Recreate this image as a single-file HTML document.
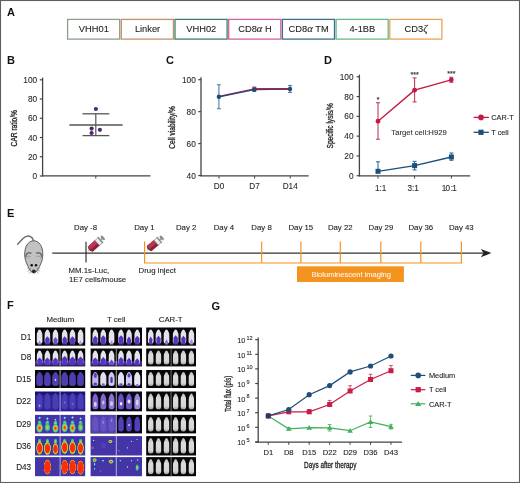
<!DOCTYPE html>
<html><head><meta charset="utf-8"><style>
html,body{margin:0;padding:0;background:#fff;}
svg{display:block;font-family:"Liberation Sans", sans-serif;will-change:transform;}
</style></head><body>
<svg width="520" height="483" viewBox="0 0 520 483">
<rect x="0" y="0" width="520" height="483" fill="#fff"/>
<text x="7" y="16" font-size="11" text-anchor="start" fill="#111" font-weight="bold" >A</text>
<text x="7" y="64" font-size="11" text-anchor="start" fill="#111" font-weight="bold" >B</text>
<text x="166" y="64" font-size="11" text-anchor="start" fill="#111" font-weight="bold" >C</text>
<text x="324" y="64" font-size="11" text-anchor="start" fill="#111" font-weight="bold" >D</text>
<text x="7" y="217" font-size="11" text-anchor="start" fill="#111" font-weight="bold" >E</text>
<text x="7" y="308.5" font-size="11" text-anchor="start" fill="#111" font-weight="bold" >F</text>
<text x="211.5" y="309.5" font-size="11" text-anchor="start" fill="#111" font-weight="bold" >G</text>
<rect x="67.60" y="19.4" width="52.10" height="19.7" fill="#fff" stroke="#8f9e8c" stroke-width="1.3"/>
<text x="93.85" y="32.4" font-size="9.3" text-anchor="middle" fill="#1e1e1e" font-weight="normal"  stroke="#1e1e1e" stroke-width="0.1">VHH01</text>
<rect x="121.30" y="19.4" width="52.10" height="19.7" fill="#fff" stroke="#c4906c" stroke-width="1.3"/>
<text x="147.55" y="32.4" font-size="9.3" text-anchor="middle" fill="#1e1e1e" font-weight="normal"  stroke="#1e1e1e" stroke-width="0.1">Linker</text>
<rect x="175.00" y="19.4" width="52.10" height="19.7" fill="#fff" stroke="#3f8068" stroke-width="1.3"/>
<text x="201.25" y="32.4" font-size="9.3" text-anchor="middle" fill="#1e1e1e" font-weight="normal"  stroke="#1e1e1e" stroke-width="0.1">VHH02</text>
<rect x="228.70" y="19.4" width="52.10" height="19.7" fill="#fff" stroke="#d9609c" stroke-width="1.3"/>
<text x="254.95" y="32.4" font-size="9.3" text-anchor="middle" fill="#1e1e1e" font-weight="normal"  stroke="#1e1e1e" stroke-width="0.1">CD8<tspan font-family="Liberation Serif" font-style="italic" font-size="10.5">&#945;</tspan> H</text>
<rect x="282.40" y="19.4" width="52.10" height="19.7" fill="#fff" stroke="#3f6e8f" stroke-width="1.3"/>
<text x="308.65" y="32.4" font-size="9.3" text-anchor="middle" fill="#1e1e1e" font-weight="normal"  stroke="#1e1e1e" stroke-width="0.1">CD8<tspan font-family="Liberation Serif" font-style="italic" font-size="10.5">&#945;</tspan> TM</text>
<rect x="336.10" y="19.4" width="52.10" height="19.7" fill="#fff" stroke="#66b98a" stroke-width="1.3"/>
<text x="362.35" y="32.4" font-size="9.3" text-anchor="middle" fill="#1e1e1e" font-weight="normal"  stroke="#1e1e1e" stroke-width="0.1">4-1BB</text>
<rect x="389.80" y="19.4" width="52.10" height="19.7" fill="#fff" stroke="#eba55a" stroke-width="1.3"/>
<text x="416.05" y="32.4" font-size="9.3" text-anchor="middle" fill="#1e1e1e" font-weight="normal"  stroke="#1e1e1e" stroke-width="0.1">CD3<tspan font-family="Liberation Serif" font-style="italic" font-size="10.5">&#950;</tspan></text>
<line x1="42.6" y1="77.6" x2="42.6" y2="176.3" stroke="#444" stroke-width="1.3" />
<line x1="39.800000000000004" y1="79.8" x2="42.6" y2="79.8" stroke="#444" stroke-width="1.2" />
<text x="37.2" y="82.80" font-size="8.3" text-anchor="end" fill="#2a2a2a" stroke="#2a2a2a" stroke-width="0.1">100</text>
<line x1="39.800000000000004" y1="99.03999999999999" x2="42.6" y2="99.03999999999999" stroke="#444" stroke-width="1.2" />
<text x="37.2" y="102.04" font-size="8.3" text-anchor="end" fill="#2a2a2a" stroke="#2a2a2a" stroke-width="0.1">80</text>
<line x1="39.800000000000004" y1="118.28" x2="42.6" y2="118.28" stroke="#444" stroke-width="1.2" />
<text x="37.2" y="121.28" font-size="8.3" text-anchor="end" fill="#2a2a2a" stroke="#2a2a2a" stroke-width="0.1">60</text>
<line x1="39.800000000000004" y1="137.51999999999998" x2="42.6" y2="137.51999999999998" stroke="#444" stroke-width="1.2" />
<text x="37.2" y="140.52" font-size="8.3" text-anchor="end" fill="#2a2a2a" stroke="#2a2a2a" stroke-width="0.1">40</text>
<line x1="39.800000000000004" y1="156.76" x2="42.6" y2="156.76" stroke="#444" stroke-width="1.2" />
<text x="37.2" y="159.76" font-size="8.3" text-anchor="end" fill="#2a2a2a" stroke="#2a2a2a" stroke-width="0.1">20</text>
<line x1="39.800000000000004" y1="176.0" x2="42.6" y2="176.0" stroke="#444" stroke-width="1.2" />
<text x="37.2" y="179.00" font-size="8.3" text-anchor="end" fill="#2a2a2a" stroke="#2a2a2a" stroke-width="0.1">0</text>
<line x1="42.0" y1="175.8" x2="150.5" y2="175.8" stroke="#444" stroke-width="1.3" />
<line x1="95.8" y1="175.8" x2="95.8" y2="178.6" stroke="#444" stroke-width="1.0" />
<text x="0" y="0" font-size="8.8" text-anchor="middle" fill="#222" stroke="#222" stroke-width="0.3" textLength="36.4" lengthAdjust="spacingAndGlyphs" transform="translate(16.9,128.2) rotate(-90)">CAR ratio/%</text>
<line x1="69.4" y1="125" x2="122.6" y2="125" stroke="#555" stroke-width="1.3" />
<line x1="82.5" y1="113.8" x2="109.3" y2="113.8" stroke="#555" stroke-width="1.3" />
<line x1="82.5" y1="135.6" x2="109.3" y2="135.6" stroke="#555" stroke-width="1.3" />
<line x1="95.8" y1="113.8" x2="95.8" y2="135.6" stroke="#555" stroke-width="1.2" />
<circle cx="95.9" cy="109" r="2.1" fill="#4b2a6e"/>
<circle cx="91.6" cy="128.6" r="2.1" fill="#4b2a6e"/>
<circle cx="91.6" cy="133" r="2.1" fill="#4b2a6e"/>
<circle cx="99.9" cy="129.8" r="2.1" fill="#4b2a6e"/>
<line x1="201.0" y1="77.2" x2="201.0" y2="176.3" stroke="#444" stroke-width="1.3" />
<line x1="198.2" y1="79.7" x2="201.0" y2="79.7" stroke="#444" stroke-width="1.2" />
<text x="195.8" y="82.70" font-size="8.3" text-anchor="end" fill="#2a2a2a" stroke="#2a2a2a" stroke-width="0.1">100</text>
<line x1="198.2" y1="111.65" x2="201.0" y2="111.65" stroke="#444" stroke-width="1.2" />
<text x="195.8" y="114.65" font-size="8.3" text-anchor="end" fill="#2a2a2a" stroke="#2a2a2a" stroke-width="0.1">80</text>
<line x1="198.2" y1="143.6" x2="201.0" y2="143.6" stroke="#444" stroke-width="1.2" />
<text x="195.8" y="146.60" font-size="8.3" text-anchor="end" fill="#2a2a2a" stroke="#2a2a2a" stroke-width="0.1">60</text>
<line x1="198.2" y1="175.55" x2="201.0" y2="175.55" stroke="#444" stroke-width="1.2" />
<text x="195.8" y="178.55" font-size="8.3" text-anchor="end" fill="#2a2a2a" stroke="#2a2a2a" stroke-width="0.1">40</text>
<line x1="200.4" y1="175.8" x2="308.7" y2="175.8" stroke="#444" stroke-width="1.3" />
<line x1="219" y1="175.8" x2="219" y2="178.6" stroke="#444" stroke-width="1.0" />
<text x="219" y="188.7" font-size="8.2" text-anchor="middle" fill="#2a2a2a" font-weight="normal"  stroke="#2a2a2a" stroke-width="0.1">D0</text>
<line x1="254.6" y1="175.8" x2="254.6" y2="178.6" stroke="#444" stroke-width="1.0" />
<text x="254.6" y="188.7" font-size="8.2" text-anchor="middle" fill="#2a2a2a" font-weight="normal"  stroke="#2a2a2a" stroke-width="0.1">D7</text>
<line x1="290.2" y1="175.8" x2="290.2" y2="178.6" stroke="#444" stroke-width="1.0" />
<text x="290.2" y="188.7" font-size="8.2" text-anchor="middle" fill="#2a2a2a" font-weight="normal"  stroke="#2a2a2a" stroke-width="0.1">D14</text>
<text x="0" y="0" font-size="8.8" text-anchor="middle" fill="#222" stroke="#222" stroke-width="0.3" textLength="42.6" lengthAdjust="spacingAndGlyphs" transform="translate(175.2,127.4) rotate(-90)">Cell viability/%</text>
<polyline points="218.9,96.5 254.3,88.9 290,88.7" fill="none" stroke="#c8254f" stroke-width="1.4"/>
<rect x="252.3" y="86.6" width="4" height="4" fill="#c8254f"/>
<line x1="218.9" y1="84.8" x2="218.9" y2="108.7" stroke="#4d7ea6" stroke-width="1.1" />
<line x1="216.9" y1="84.8" x2="220.9" y2="84.8" stroke="#4d7ea6" stroke-width="1.1" />
<line x1="216.9" y1="108.7" x2="220.9" y2="108.7" stroke="#4d7ea6" stroke-width="1.1" />
<line x1="254.3" y1="88.2" x2="254.3" y2="91.3" stroke="#4d7ea6" stroke-width="1.1" />
<line x1="252.3" y1="88.2" x2="256.3" y2="88.2" stroke="#4d7ea6" stroke-width="1.1" />
<line x1="252.3" y1="91.3" x2="256.3" y2="91.3" stroke="#4d7ea6" stroke-width="1.1" />
<line x1="290" y1="85.5" x2="290" y2="92.4" stroke="#4d7ea6" stroke-width="1.1" />
<line x1="288" y1="85.5" x2="292" y2="85.5" stroke="#4d7ea6" stroke-width="1.1" />
<line x1="288" y1="92.4" x2="292" y2="92.4" stroke="#4d7ea6" stroke-width="1.1" />
<polyline points="218.9,96.8 254.3,89.7 290,89" fill="none" stroke="#1e4a73" stroke-width="1.3"/>
<line x1="255" y1="88.9" x2="288" y2="88.7" stroke="#a8204a" stroke-width="1.3"/>
<circle cx="218.9" cy="96.8" r="2.2" fill="#1e4a73"/>
<circle cx="254.3" cy="89.7" r="2.2" fill="#1e4a73"/>
<circle cx="290" cy="89" r="2.2" fill="#1e4a73"/>
<line x1="359.4" y1="74.6" x2="359.4" y2="176.3" stroke="#444" stroke-width="1.3" />
<line x1="356.59999999999997" y1="76.8" x2="359.4" y2="76.8" stroke="#444" stroke-width="1.2" />
<text x="353.6" y="79.80" font-size="8.3" text-anchor="end" fill="#2a2a2a" stroke="#2a2a2a" stroke-width="0.1">100</text>
<line x1="356.59999999999997" y1="96.58" x2="359.4" y2="96.58" stroke="#444" stroke-width="1.2" />
<text x="353.6" y="99.58" font-size="8.3" text-anchor="end" fill="#2a2a2a" stroke="#2a2a2a" stroke-width="0.1">80</text>
<line x1="356.59999999999997" y1="116.36" x2="359.4" y2="116.36" stroke="#444" stroke-width="1.2" />
<text x="353.6" y="119.36" font-size="8.3" text-anchor="end" fill="#2a2a2a" stroke="#2a2a2a" stroke-width="0.1">60</text>
<line x1="356.59999999999997" y1="136.14" x2="359.4" y2="136.14" stroke="#444" stroke-width="1.2" />
<text x="353.6" y="139.14" font-size="8.3" text-anchor="end" fill="#2a2a2a" stroke="#2a2a2a" stroke-width="0.1">40</text>
<line x1="356.59999999999997" y1="155.92000000000002" x2="359.4" y2="155.92000000000002" stroke="#444" stroke-width="1.2" />
<text x="353.6" y="158.92" font-size="8.3" text-anchor="end" fill="#2a2a2a" stroke="#2a2a2a" stroke-width="0.1">20</text>
<line x1="356.59999999999997" y1="175.7" x2="359.4" y2="175.7" stroke="#444" stroke-width="1.2" />
<text x="353.6" y="178.70" font-size="8.3" text-anchor="end" fill="#2a2a2a" stroke="#2a2a2a" stroke-width="0.1">0</text>
<line x1="358.8" y1="175.8" x2="470.2" y2="175.8" stroke="#444" stroke-width="1.3" />
<line x1="378" y1="175.8" x2="378" y2="178.6" stroke="#444" stroke-width="1.0" />
<text x="380.6" y="190.5" font-size="8.2" text-anchor="middle" fill="#2a2a2a" font-weight="normal"  stroke="#2a2a2a" stroke-width="0.1">1:1</text>
<line x1="414.6" y1="175.8" x2="414.6" y2="178.6" stroke="#444" stroke-width="1.0" />
<text x="413.1" y="190.5" font-size="8.2" text-anchor="middle" fill="#2a2a2a" font-weight="normal"  stroke="#2a2a2a" stroke-width="0.1">3:1</text>
<line x1="451.4" y1="175.8" x2="451.4" y2="178.6" stroke="#444" stroke-width="1.0" />
<text x="449.3" y="190.5" font-size="8.2" text-anchor="middle" fill="#2a2a2a" font-weight="normal" textLength="15.2" lengthAdjust="spacing" stroke="#2a2a2a" stroke-width="0.1">10 :1</text>
<text x="0" y="0" font-size="8.6" text-anchor="middle" fill="#222" stroke="#222" stroke-width="0.3" textLength="45.4" lengthAdjust="spacingAndGlyphs" transform="translate(333.0,125.8) rotate(-90)">Specific lysis/%</text>
<line x1="378" y1="102.7" x2="378" y2="139.2" stroke="#c2405c" stroke-width="1.1" />
<line x1="376" y1="102.7" x2="380" y2="102.7" stroke="#c2405c" stroke-width="1.1" />
<line x1="376" y1="139.2" x2="380" y2="139.2" stroke="#c2405c" stroke-width="1.1" />
<line x1="414.6" y1="77.9" x2="414.6" y2="101.9" stroke="#c2405c" stroke-width="1.1" />
<line x1="412.6" y1="77.9" x2="416.6" y2="77.9" stroke="#c2405c" stroke-width="1.1" />
<line x1="412.6" y1="101.9" x2="416.6" y2="101.9" stroke="#c2405c" stroke-width="1.1" />
<line x1="451.3" y1="77.3" x2="451.3" y2="82.3" stroke="#c2405c" stroke-width="1.1" />
<line x1="449.3" y1="77.3" x2="453.3" y2="77.3" stroke="#c2405c" stroke-width="1.1" />
<line x1="449.3" y1="82.3" x2="453.3" y2="82.3" stroke="#c2405c" stroke-width="1.1" />
<polyline points="378,121.2 414.6,90.2 451.3,79.8" fill="none" stroke="#c41a42" stroke-width="1.4"/>
<circle cx="378" cy="121.2" r="2.4" fill="#c41a42"/>
<circle cx="414.6" cy="90.2" r="2.4" fill="#c41a42"/>
<circle cx="451.3" cy="79.8" r="2.4" fill="#c41a42"/>
<line x1="378" y1="161.8" x2="378" y2="173.5" stroke="#3a6e9a" stroke-width="1.1" />
<line x1="376" y1="161.8" x2="380" y2="161.8" stroke="#3a6e9a" stroke-width="1.1" />
<line x1="414.6" y1="161.4" x2="414.6" y2="169.9" stroke="#3a6e9a" stroke-width="1.1" />
<line x1="412.6" y1="161.4" x2="416.6" y2="161.4" stroke="#3a6e9a" stroke-width="1.1" />
<line x1="412.6" y1="169.9" x2="416.6" y2="169.9" stroke="#3a6e9a" stroke-width="1.1" />
<line x1="451.4" y1="153" x2="451.4" y2="160.3" stroke="#3a6e9a" stroke-width="1.1" />
<line x1="449.4" y1="153" x2="453.4" y2="153" stroke="#3a6e9a" stroke-width="1.1" />
<line x1="449.4" y1="160.3" x2="453.4" y2="160.3" stroke="#3a6e9a" stroke-width="1.1" />
<polyline points="378,171.3 414.6,165.6 451.4,157" fill="none" stroke="#1c4f7c" stroke-width="1.3"/>
<rect x="375.5" y="168.8" width="5" height="5" fill="#1c4f7c"/>
<rect x="412.1" y="163.1" width="5" height="5" fill="#1c4f7c"/>
<rect x="448.9" y="154.5" width="5" height="5" fill="#1c4f7c"/>
<text x="378" y="101.5" font-size="7" text-anchor="middle" fill="#222" font-weight="normal"  stroke="#222" stroke-width="0.1">*</text>
<text x="414.6" y="76.6" font-size="7" text-anchor="middle" fill="#222" font-weight="normal"  stroke="#222" stroke-width="0.1">***</text>
<text x="451.3" y="75.8" font-size="7" text-anchor="middle" fill="#222" font-weight="normal"  stroke="#222" stroke-width="0.1">***</text>
<text x="391.3" y="135" font-size="7.9" text-anchor="start" fill="#333" font-weight="normal" textLength="55.4" lengthAdjust="spacingAndGlyphs" stroke="#333" stroke-width="0.1">Target cell:H929</text>
<line x1="473.6" y1="117.4" x2="488.9" y2="117.4" stroke="#c41a42" stroke-width="1.3" />
<circle cx="481" cy="117.4" r="2.8" fill="#c41a42"/>
<text x="491.3" y="120.1" font-size="7.3" text-anchor="start" fill="#222" font-weight="normal"  stroke="#222" stroke-width="0.1">CAR-T</text>
<line x1="473.6" y1="132.3" x2="488.9" y2="132.3" stroke="#1c4f7c" stroke-width="1.3" />
<rect x="478.4" y="129.7" width="5.2" height="5.2" fill="#1c4f7c"/>
<text x="491.3" y="135.0" font-size="7.3" text-anchor="start" fill="#222" font-weight="normal"  stroke="#222" stroke-width="0.1">T cell</text>
<g>
<path d="M17.6,244.2 L23,238.6 Q26,235.6 29.5,236.2 Q32.6,236.9 33.6,241.2" fill="none" stroke="#6e6e6e" stroke-width="1.5" stroke-linecap="round"/>
<path d="M33.8,240.8 C39.5,240.8 42.8,247 42.8,254 C42.8,259.5 41.6,262 40.2,265 C38.6,268.6 36.6,273 33.8,273 C31,273 29,268.6 27.4,265 C26,262 24.7,259.5 24.7,254 C24.7,247 28,240.8 33.8,240.8 Z" fill="#c2c2c2" stroke="#5e5e5e" stroke-width="1.0"/>
<path d="M25.6,257.2 C26.0,253.4 28.8,251.6 31.4,253.4 M42.0,257.2 C41.6,253.4 38.8,251.6 36.2,253.4" fill="none" stroke="#6a6a6a" stroke-width="1.5"/>
<path d="M26.6,258.5 C27.5,256 29.5,255.5 31,257 M41,258.5 C40.1,256 38.1,255.5 36.6,257" fill="none" stroke="#8a8a8a" stroke-width="0.9"/>
<circle cx="31.7" cy="265.2" r="1.25" fill="#111"/><circle cx="36.0" cy="265.2" r="1.25" fill="#111"/>
<ellipse cx="33.8" cy="271.2" rx="1.9" ry="1.7" fill="#2a2a2a"/>
<path d="M30.8,268.8 L27.2,268 M30.8,269.6 L27.4,271.2 M31.2,270.6 L29.4,273.6 M36.8,268.8 L40.4,268 M36.8,269.6 L40.2,271.2 M36.4,270.6 L38.2,273.6" stroke="#7a7a7a" stroke-width="0.6"/>
</g>
<line x1="52.2" y1="253.1" x2="484" y2="253.1" stroke="#333" stroke-width="1.3" />
<path d="M491.4,253.1 L480.8,248.9 L483.6,253.1 L480.8,257.3 Z" fill="#222"/>
<line x1="86" y1="241.7" x2="86" y2="262.4" stroke="#222" stroke-width="1.1" />
<line x1="144.6" y1="241.6" x2="144.6" y2="263.0" stroke="#f5931f" stroke-width="1.2" />
<line x1="261.7" y1="241.6" x2="261.7" y2="263.0" stroke="#f5931f" stroke-width="1.2" />
<line x1="300.9" y1="241.6" x2="300.9" y2="263.0" stroke="#f5931f" stroke-width="1.2" />
<line x1="340.3" y1="241.6" x2="340.3" y2="263.0" stroke="#f5931f" stroke-width="1.2" />
<line x1="380.8" y1="241.6" x2="380.8" y2="263.0" stroke="#f5931f" stroke-width="1.2" />
<line x1="420.8" y1="241.6" x2="420.8" y2="263.0" stroke="#f5931f" stroke-width="1.2" />
<line x1="461.4" y1="241.6" x2="461.4" y2="263.0" stroke="#f5931f" stroke-width="1.2" />
<line x1="144" y1="263.0" x2="462" y2="263.0" stroke="#f5931f" stroke-width="1.2" />
<rect x="297" y="266.3" width="106.9" height="15.7" fill="#f5931f"/>
<text x="351.2" y="277.1" font-size="7.6" text-anchor="middle" fill="#fff4ea" font-weight="normal" textLength="79.6" lengthAdjust="spacingAndGlyphs" stroke="#fff4ea" stroke-width="0.1">Bioluminescent imaging</text>
<text x="85.55" y="229.5" font-size="7.8" text-anchor="middle" fill="#222" font-weight="normal"  stroke="#222" stroke-width="0.1">Day -8</text>
<text x="144.40" y="229.5" font-size="7.8" text-anchor="middle" fill="#222" font-weight="normal"  stroke="#222" stroke-width="0.1">Day 1</text>
<text x="186.15" y="229.5" font-size="7.8" text-anchor="middle" fill="#222" font-weight="normal"  stroke="#222" stroke-width="0.1">Day 2</text>
<text x="223.90" y="229.5" font-size="7.8" text-anchor="middle" fill="#222" font-weight="normal"  stroke="#222" stroke-width="0.1">Day 4</text>
<text x="261.55" y="229.5" font-size="7.8" text-anchor="middle" fill="#222" font-weight="normal"  stroke="#222" stroke-width="0.1">Day 8</text>
<text x="300.80" y="229.5" font-size="7.8" text-anchor="middle" fill="#222" font-weight="normal"  stroke="#222" stroke-width="0.1">Day 15</text>
<text x="340.25" y="229.5" font-size="7.8" text-anchor="middle" fill="#222" font-weight="normal"  stroke="#222" stroke-width="0.1">Day 22</text>
<text x="380.90" y="229.5" font-size="7.8" text-anchor="middle" fill="#222" font-weight="normal"  stroke="#222" stroke-width="0.1">Day 29</text>
<text x="420.80" y="229.5" font-size="7.8" text-anchor="middle" fill="#222" font-weight="normal"  stroke="#222" stroke-width="0.1">Day 36</text>
<text x="461.30" y="229.5" font-size="7.8" text-anchor="middle" fill="#222" font-weight="normal"  stroke="#222" stroke-width="0.1">Day 43</text>
<text x="68.5" y="273.0" font-size="7.8" text-anchor="start" fill="#222" font-weight="normal"  stroke="#222" stroke-width="0.1">MM.1s-Luc,</text>
<text x="69.0" y="282.3" font-size="7.8" text-anchor="start" fill="#222" font-weight="normal"  stroke="#222" stroke-width="0.1">1E7 cells/mouse</text>
<text x="138.6" y="272.9" font-size="7.8" text-anchor="start" fill="#222" font-weight="normal"  stroke="#222" stroke-width="0.1">Drug inject</text>
<g transform="translate(88.2,251.0) rotate(-42) scale(1.0)">
<line x1="0" y1="0" x2="2.0" y2="0" stroke="#888" stroke-width="0.8"/>
<path d="M1.6,-1.4 L2.8,-3.3 L2.8,3.3 L1.6,1.4 Z" fill="#6e1a2c"/>
<rect x="2.8" y="-3.3" width="9.4" height="6.6" fill="#c03452" stroke="#6e1a2c" stroke-width="0.6"/>
<rect x="2.8" y="0.7" width="9.4" height="2.6" fill="#8c1f38"/>
<rect x="12.2" y="-3.3" width="3.6" height="6.6" fill="#eeeeee" stroke="#7a9a92" stroke-width="0.7"/>
<rect x="15.8" y="-4.0" width="1.3" height="8.0" fill="#8a8a8a"/>
<rect x="17.1" y="-0.8" width="1.8" height="1.6" fill="#9a9a9a"/>
<ellipse cx="19.6" cy="0" rx="1.4" ry="2.9" fill="#8e8e8e"/>
</g>
<g transform="translate(147.0,250.3) rotate(-40) scale(0.98)">
<line x1="0" y1="0" x2="2.0" y2="0" stroke="#888" stroke-width="0.8"/>
<path d="M1.6,-1.4 L2.8,-3.3 L2.8,3.3 L1.6,1.4 Z" fill="#6e1a2c"/>
<rect x="2.8" y="-3.3" width="9.4" height="6.6" fill="#c03452" stroke="#6e1a2c" stroke-width="0.6"/>
<rect x="2.8" y="0.7" width="9.4" height="2.6" fill="#8c1f38"/>
<rect x="12.2" y="-3.3" width="3.6" height="6.6" fill="#eeeeee" stroke="#7a9a92" stroke-width="0.7"/>
<rect x="15.8" y="-4.0" width="1.3" height="8.0" fill="#8a8a8a"/>
<rect x="17.1" y="-0.8" width="1.8" height="1.6" fill="#9a9a9a"/>
<ellipse cx="19.6" cy="0" rx="1.4" ry="2.9" fill="#8e8e8e"/>
</g>
<line x1="258.2" y1="337.4" x2="258.2" y2="442.4" stroke="#444" stroke-width="1.3" />
<line x1="255.2" y1="441.9" x2="258.2" y2="441.9" stroke="#444" stroke-width="1.2" />
<text x="245.3" y="445.30" font-size="7.3" text-anchor="end" fill="#2a2a2a" stroke="#2a2a2a" stroke-width="0.1">10</text>
<text x="246.4" y="442.10" font-size="5.5" text-anchor="start" fill="#2a2a2a" stroke="#2a2a2a" stroke-width="0.1">5</text>
<line x1="255.2" y1="427.29999999999995" x2="258.2" y2="427.29999999999995" stroke="#444" stroke-width="1.2" />
<text x="245.3" y="430.70" font-size="7.3" text-anchor="end" fill="#2a2a2a" stroke="#2a2a2a" stroke-width="0.1">10</text>
<text x="246.4" y="427.50" font-size="5.5" text-anchor="start" fill="#2a2a2a" stroke="#2a2a2a" stroke-width="0.1">6</text>
<line x1="255.2" y1="412.7" x2="258.2" y2="412.7" stroke="#444" stroke-width="1.2" />
<text x="245.3" y="416.10" font-size="7.3" text-anchor="end" fill="#2a2a2a" stroke="#2a2a2a" stroke-width="0.1">10</text>
<text x="246.4" y="412.90" font-size="5.5" text-anchor="start" fill="#2a2a2a" stroke="#2a2a2a" stroke-width="0.1">7</text>
<line x1="255.2" y1="398.09999999999997" x2="258.2" y2="398.09999999999997" stroke="#444" stroke-width="1.2" />
<text x="245.3" y="401.50" font-size="7.3" text-anchor="end" fill="#2a2a2a" stroke="#2a2a2a" stroke-width="0.1">10</text>
<text x="246.4" y="398.30" font-size="5.5" text-anchor="start" fill="#2a2a2a" stroke="#2a2a2a" stroke-width="0.1">8</text>
<line x1="255.2" y1="383.5" x2="258.2" y2="383.5" stroke="#444" stroke-width="1.2" />
<text x="245.3" y="386.90" font-size="7.3" text-anchor="end" fill="#2a2a2a" stroke="#2a2a2a" stroke-width="0.1">10</text>
<text x="246.4" y="383.70" font-size="5.5" text-anchor="start" fill="#2a2a2a" stroke="#2a2a2a" stroke-width="0.1">9</text>
<line x1="255.2" y1="368.9" x2="258.2" y2="368.9" stroke="#444" stroke-width="1.2" />
<text x="245.3" y="372.30" font-size="7.3" text-anchor="end" fill="#2a2a2a" stroke="#2a2a2a" stroke-width="0.1">10</text>
<text x="246.4" y="369.10" font-size="5.5" text-anchor="start" fill="#2a2a2a" stroke="#2a2a2a" stroke-width="0.1">10</text>
<line x1="255.2" y1="354.3" x2="258.2" y2="354.3" stroke="#444" stroke-width="1.2" />
<text x="245.3" y="357.70" font-size="7.3" text-anchor="end" fill="#2a2a2a" stroke="#2a2a2a" stroke-width="0.1">10</text>
<text x="246.4" y="354.50" font-size="5.5" text-anchor="start" fill="#2a2a2a" stroke="#2a2a2a" stroke-width="0.1">11</text>
<line x1="255.2" y1="339.7" x2="258.2" y2="339.7" stroke="#444" stroke-width="1.2" />
<text x="245.3" y="343.10" font-size="7.3" text-anchor="end" fill="#2a2a2a" stroke="#2a2a2a" stroke-width="0.1">10</text>
<text x="246.4" y="339.90" font-size="5.5" text-anchor="start" fill="#2a2a2a" stroke="#2a2a2a" stroke-width="0.1">12</text>
<line x1="255.4" y1="442.1" x2="402.1" y2="442.1" stroke="#444" stroke-width="1.3" />
<line x1="268.3" y1="442" x2="268.3" y2="444.8" stroke="#444" stroke-width="1.0" />
<text x="268.30" y="454.6" font-size="7.6" text-anchor="middle" fill="#222" font-weight="normal"  stroke="#222" stroke-width="0.1">D1</text>
<line x1="288.75" y1="442" x2="288.75" y2="444.8" stroke="#444" stroke-width="1.0" />
<text x="288.75" y="454.6" font-size="7.6" text-anchor="middle" fill="#222" font-weight="normal"  stroke="#222" stroke-width="0.1">D8</text>
<line x1="309.2" y1="442" x2="309.2" y2="444.8" stroke="#444" stroke-width="1.0" />
<text x="309.20" y="454.6" font-size="7.6" text-anchor="middle" fill="#222" font-weight="normal"  stroke="#222" stroke-width="0.1">D15</text>
<line x1="329.65" y1="442" x2="329.65" y2="444.8" stroke="#444" stroke-width="1.0" />
<text x="329.65" y="454.6" font-size="7.6" text-anchor="middle" fill="#222" font-weight="normal"  stroke="#222" stroke-width="0.1">D22</text>
<line x1="350.1" y1="442" x2="350.1" y2="444.8" stroke="#444" stroke-width="1.0" />
<text x="350.10" y="454.6" font-size="7.6" text-anchor="middle" fill="#222" font-weight="normal"  stroke="#222" stroke-width="0.1">D29</text>
<line x1="370.55" y1="442" x2="370.55" y2="444.8" stroke="#444" stroke-width="1.0" />
<text x="370.55" y="454.6" font-size="7.6" text-anchor="middle" fill="#222" font-weight="normal"  stroke="#222" stroke-width="0.1">D36</text>
<line x1="391.0" y1="442" x2="391.0" y2="444.8" stroke="#444" stroke-width="1.0" />
<text x="391.00" y="454.6" font-size="7.6" text-anchor="middle" fill="#222" font-weight="normal"  stroke="#222" stroke-width="0.1">D43</text>
<text x="330.2" y="467.6" font-size="8.9" text-anchor="middle" fill="#222" stroke="#222" stroke-width="0.3" textLength="52.3" lengthAdjust="spacingAndGlyphs">Days after therapy</text>
<text x="0" y="0" font-size="9.4" text-anchor="middle" fill="#222" stroke="#222" stroke-width="0.3" textLength="36" lengthAdjust="spacingAndGlyphs" transform="translate(230.8,393.9) rotate(-90)">Total flux (p/s)</text>
<line x1="329.65" y1="400.4" x2="329.65" y2="404.5" stroke="#d0506a" stroke-width="1.0" />
<line x1="327.84999999999997" y1="400.4" x2="331.45" y2="400.4" stroke="#d0506a" stroke-width="1.0" />
<line x1="350.1" y1="385.7" x2="350.1" y2="391" stroke="#d0506a" stroke-width="1.0" />
<line x1="348.3" y1="385.7" x2="351.90000000000003" y2="385.7" stroke="#d0506a" stroke-width="1.0" />
<line x1="370.55" y1="374.3" x2="370.55" y2="379.5" stroke="#d0506a" stroke-width="1.0" />
<line x1="368.75" y1="374.3" x2="372.35" y2="374.3" stroke="#d0506a" stroke-width="1.0" />
<line x1="391.0" y1="365.5" x2="391.0" y2="370.7" stroke="#d0506a" stroke-width="1.0" />
<line x1="389.2" y1="365.5" x2="392.8" y2="365.5" stroke="#d0506a" stroke-width="1.0" />
<line x1="309.2" y1="409.5" x2="309.2" y2="411.8" stroke="#d0506a" stroke-width="1.0" />
<line x1="307.4" y1="409.5" x2="311.0" y2="409.5" stroke="#d0506a" stroke-width="1.0" />
<line x1="329.65" y1="424.5" x2="329.65" y2="431" stroke="#5cbf6c" stroke-width="1.0" />
<line x1="327.84999999999997" y1="424.5" x2="331.45" y2="424.5" stroke="#5cbf6c" stroke-width="1.0" />
<line x1="327.84999999999997" y1="431" x2="331.45" y2="431" stroke="#5cbf6c" stroke-width="1.0" />
<line x1="370.55" y1="416" x2="370.55" y2="427.5" stroke="#5cbf6c" stroke-width="1.0" />
<line x1="368.75" y1="416" x2="372.35" y2="416" stroke="#5cbf6c" stroke-width="1.0" />
<line x1="368.75" y1="427.5" x2="372.35" y2="427.5" stroke="#5cbf6c" stroke-width="1.0" />
<line x1="391.0" y1="424.3" x2="391.0" y2="429" stroke="#5cbf6c" stroke-width="1.0" />
<line x1="389.2" y1="424.3" x2="392.8" y2="424.3" stroke="#5cbf6c" stroke-width="1.0" />
<line x1="389.2" y1="429" x2="392.8" y2="429" stroke="#5cbf6c" stroke-width="1.0" />
<line x1="288.75" y1="427.5" x2="288.75" y2="430" stroke="#5cbf6c" stroke-width="1.0" />
<line x1="286.95" y1="427.5" x2="290.55" y2="427.5" stroke="#5cbf6c" stroke-width="1.0" />
<line x1="286.95" y1="430" x2="290.55" y2="430" stroke="#5cbf6c" stroke-width="1.0" />
<polyline points="268.30,415.9 288.75,428.8 309.20,427.7 329.65,427.8 350.10,430.7 370.55,421.9 391.00,426.7" fill="none" stroke="#43b05c" stroke-width="1.2"/>
<polyline points="268.30,415.9 288.75,411.8 309.20,411.8 329.65,404.5 350.10,391 370.55,379.5 391.00,370.7" fill="none" stroke="#c81d45" stroke-width="1.2"/>
<polyline points="268.30,415.9 288.75,409.5 309.20,394.7 329.65,385.6 350.10,371.9 370.55,366 391.00,356" fill="none" stroke="#1f4e79" stroke-width="1.2"/>
<path d="M265.50,417.90 L271.10,417.90 L268.30,413.30 Z" fill="#43b05c"/>
<path d="M285.95,430.80 L291.55,430.80 L288.75,426.20 Z" fill="#43b05c"/>
<path d="M306.40,429.70 L312.00,429.70 L309.20,425.10 Z" fill="#43b05c"/>
<path d="M326.85,429.80 L332.45,429.80 L329.65,425.20 Z" fill="#43b05c"/>
<path d="M347.30,432.70 L352.90,432.70 L350.10,428.10 Z" fill="#43b05c"/>
<path d="M367.75,423.90 L373.35,423.90 L370.55,419.30 Z" fill="#43b05c"/>
<path d="M388.20,428.70 L393.80,428.70 L391.00,424.10 Z" fill="#43b05c"/>
<rect x="265.80" y="413.40" width="5" height="5" fill="#c81d45"/>
<rect x="286.25" y="409.30" width="5" height="5" fill="#c81d45"/>
<rect x="306.70" y="409.30" width="5" height="5" fill="#c81d45"/>
<rect x="327.15" y="402.00" width="5" height="5" fill="#c81d45"/>
<rect x="347.60" y="388.50" width="5" height="5" fill="#c81d45"/>
<rect x="368.05" y="377.00" width="5" height="5" fill="#c81d45"/>
<rect x="388.50" y="368.20" width="5" height="5" fill="#c81d45"/>
<circle cx="268.30" cy="415.9" r="2.6" fill="#1f4e79"/>
<circle cx="288.75" cy="409.5" r="2.6" fill="#1f4e79"/>
<circle cx="309.20" cy="394.7" r="2.6" fill="#1f4e79"/>
<circle cx="329.65" cy="385.6" r="2.6" fill="#1f4e79"/>
<circle cx="350.10" cy="371.9" r="2.6" fill="#1f4e79"/>
<circle cx="370.55" cy="366" r="2.6" fill="#1f4e79"/>
<circle cx="391.00" cy="356" r="2.6" fill="#1f4e79"/>
<rect x="266.1" y="413.7" width="4.4" height="4.4" fill="#2a3a5a"/>
<line x1="410.8" y1="375.4" x2="425.4" y2="375.4" stroke="#1f4e79" stroke-width="1.2" />
<circle cx="418.2" cy="375.4" r="2.8" fill="#1f4e79"/>
<text x="428.9" y="378.09999999999997" font-size="7.4" text-anchor="start" fill="#222" font-weight="normal"  stroke="#222" stroke-width="0.1">Medium</text>
<line x1="410.8" y1="389.7" x2="425.4" y2="389.7" stroke="#c81d45" stroke-width="1.2" />
<rect x="415.6" y="387.09999999999997" width="5.2" height="5.2" fill="#c81d45"/>
<text x="428.9" y="392.4" font-size="7.4" text-anchor="start" fill="#222" font-weight="normal"  stroke="#222" stroke-width="0.1">T cell</text>
<line x1="410.8" y1="403.8" x2="425.4" y2="403.8" stroke="#43b05c" stroke-width="1.2" />
<path d="M415.2,405.90000000000003 L421.2,405.90000000000003 L418.2,401.0 Z" fill="#43b05c"/>
<text x="428.9" y="406.5" font-size="7.4" text-anchor="start" fill="#222" font-weight="normal"  stroke="#222" stroke-width="0.1">CAR-T</text>
<text x="60.3" y="321.8" font-size="7.8" text-anchor="middle" fill="#222" font-weight="normal"  stroke="#222" stroke-width="0.1">Medium</text>
<text x="116.2" y="321.8" font-size="7.8" text-anchor="middle" fill="#222" font-weight="normal"  stroke="#222" stroke-width="0.1">T cell</text>
<text x="170.7" y="321.8" font-size="7.8" text-anchor="middle" fill="#222" font-weight="normal"  stroke="#222" stroke-width="0.1">CAR-T</text>
<text x="31.2" y="339.6" font-size="8.2" text-anchor="end" fill="#222" font-weight="normal"  stroke="#222" stroke-width="0.1">D1</text>
<text x="31.2" y="360.45" font-size="8.2" text-anchor="end" fill="#222" font-weight="normal"  stroke="#222" stroke-width="0.1">D8</text>
<text x="31.2" y="382.0" font-size="8.2" text-anchor="end" fill="#222" font-weight="normal"  stroke="#222" stroke-width="0.1">D15</text>
<text x="31.2" y="404.4" font-size="8.2" text-anchor="end" fill="#222" font-weight="normal"  stroke="#222" stroke-width="0.1">D22</text>
<text x="31.2" y="427.15" font-size="8.2" text-anchor="end" fill="#222" font-weight="normal"  stroke="#222" stroke-width="0.1">D29</text>
<text x="31.2" y="448.8" font-size="8.2" text-anchor="end" fill="#222" font-weight="normal"  stroke="#222" stroke-width="0.1">D36</text>
<text x="31.2" y="469.65" font-size="8.2" text-anchor="end" fill="#222" font-weight="normal"  stroke="#222" stroke-width="0.1">D43</text>
<defs>
<filter id="bl" x="-5%" y="-5%" width="110%" height="110%"><feGaussianBlur stdDeviation="0.6"/></filter>
<filter id="bl2" x="-20%" y="-20%" width="140%" height="140%"><feGaussianBlur stdDeviation="0.8"/></filter>
<radialGradient id="red" cx="50%" cy="50%" r="50%">
<stop offset="0" stop-color="#ff2a0a"/><stop offset="0.6" stop-color="#f83010"/><stop offset="0.75" stop-color="#f0c020"/><stop offset="0.88" stop-color="#60d060"/><stop offset="1" stop-color="#40b0d0" stop-opacity="0"/>
</radialGradient>
<radialGradient id="red2" cx="50%" cy="50%" r="50%">
<stop offset="0" stop-color="#ff2a0a"/><stop offset="0.78" stop-color="#f83010"/><stop offset="0.9" stop-color="#f0a020"/><stop offset="1" stop-color="#d0d040" stop-opacity="0"/>
</radialGradient>
<radialGradient id="warm" cx="50%" cy="55%" r="50%">
<stop offset="0" stop-color="#f03010"/><stop offset="0.3" stop-color="#f07010"/><stop offset="0.5" stop-color="#d8d030"/><stop offset="0.72" stop-color="#40d080"/><stop offset="0.88" stop-color="#30a8e0" stop-opacity="0.8"/><stop offset="1" stop-color="#3a2ab8" stop-opacity="0"/>
</radialGradient>
<radialGradient id="grn" cx="50%" cy="50%" r="50%">
<stop offset="0" stop-color="#c0e040"/><stop offset="0.4" stop-color="#70d050"/><stop offset="0.75" stop-color="#30b0d0" stop-opacity="0.8"/><stop offset="1" stop-color="#3a2ab8" stop-opacity="0"/>
</radialGradient>
<radialGradient id="cool" cx="50%" cy="50%" r="50%">
<stop offset="0" stop-color="#c0f8ff"/><stop offset="0.45" stop-color="#50c0f0"/><stop offset="1" stop-color="#3a2ab8" stop-opacity="0"/>
</radialGradient>
<radialGradient id="wsp" cx="50%" cy="50%" r="50%">
<stop offset="0" stop-color="#f8f4ff"/><stop offset="0.5" stop-color="#d8ccf8"/><stop offset="1" stop-color="#8060e0" stop-opacity="0"/>
</radialGradient>
<radialGradient id="pur" cx="50%" cy="50%" r="50%">
<stop offset="0" stop-color="#4a2ab8"/><stop offset="0.6" stop-color="#5a38c8"/><stop offset="1" stop-color="#6a50d0" stop-opacity="0"/>
</radialGradient>
<linearGradient id="gw" x1="0" y1="0" x2="0" y2="1">
<stop offset="0" stop-color="#b8b8b8"/><stop offset="0.3" stop-color="#dcdcdc"/><stop offset="0.8" stop-color="#d4d4d4"/><stop offset="1" stop-color="#a0a0a0"/>
</linearGradient>
</defs>
<clipPath id="cp1"><rect x="35.0" y="327.5" width="50.20" height="18.20"/></clipPath>
<rect x="35.0" y="327.5" width="50.20" height="18.20" fill="#070707"/>
<g clip-path="url(#cp1)"><g filter="url(#bl)">
<path d="M39.59,329.50 C40.33,329.50 40.97,330.41 41.43,331.53 C41.89,332.54 42.35,333.15 42.35,334.57 L42.45,340.66 C42.45,342.48 41.99,343.70 39.59,343.70 C37.20,343.70 36.74,342.48 36.74,340.66 L36.83,334.57 C36.83,333.15 37.29,332.54 37.75,331.53 C38.21,330.41 38.86,329.50 39.59,329.50 Z" fill="#e4e2ea"/>
<path d="M47.40,329.50 C48.14,329.50 48.78,330.41 49.24,331.53 C49.70,332.54 50.16,333.15 50.16,334.57 L50.25,340.66 C50.25,342.48 49.79,343.70 47.40,343.70 C45.01,343.70 44.55,342.48 44.55,340.66 L44.64,334.57 C44.64,333.15 45.10,332.54 45.56,331.53 C46.02,330.41 46.66,329.50 47.40,329.50 Z" fill="#e4e2ea"/>
<path d="M55.46,329.50 C56.19,329.50 56.84,330.41 57.30,331.53 C57.76,332.54 58.22,333.15 58.22,334.57 L58.31,340.66 C58.31,342.48 57.85,343.70 55.46,343.70 C53.06,343.70 52.60,342.48 52.60,340.66 L52.70,334.57 C52.70,333.15 53.16,332.54 53.62,331.53 C54.08,330.41 54.72,329.50 55.46,329.50 Z" fill="#e4e2ea"/>
<path d="M64.69,329.50 C65.43,329.50 66.07,330.41 66.53,331.53 C66.99,332.54 67.45,333.15 67.45,334.57 L67.55,340.66 C67.55,342.48 67.09,343.70 64.69,343.70 C62.30,343.70 61.84,342.48 61.84,340.66 L61.93,334.57 C61.93,333.15 62.39,332.54 62.85,331.53 C63.31,330.41 63.96,329.50 64.69,329.50 Z" fill="#e4e2ea"/>
<path d="M72.50,329.50 C73.24,329.50 73.88,330.41 74.34,331.53 C74.80,332.54 75.26,333.15 75.26,334.57 L75.35,340.66 C75.35,342.48 74.89,343.70 72.50,343.70 C70.11,343.70 69.65,342.48 69.65,340.66 L69.74,334.57 C69.74,333.15 70.20,332.54 70.66,331.53 C71.12,330.41 71.76,329.50 72.50,329.50 Z" fill="#e4e2ea"/>
<path d="M80.56,329.50 C81.29,329.50 81.94,330.41 82.40,331.53 C82.86,332.54 83.32,333.15 83.32,334.57 L83.41,340.66 C83.41,342.48 82.95,343.70 80.56,343.70 C78.16,343.70 77.70,342.48 77.70,340.66 L77.80,334.57 C77.80,333.15 78.26,332.54 78.72,331.53 C79.18,330.41 79.82,329.50 80.56,329.50 Z" fill="#e4e2ea"/>
<path d="M37.99,344.50 L37.99,343.20 L39.59,340.60 L41.19,343.20 L41.19,344.50 Z" fill="#9a88d8"/>
<path d="M45.20,344.50 L45.20,338.84 L47.40,336.24 L49.60,338.84 L49.60,344.50 Z" fill="#5534c0"/>
<path d="M53.46,344.50 L53.46,339.56 L55.46,336.96 L57.46,339.56 L57.46,344.50 Z" fill="#6a50d0"/>
<path d="M62.49,344.50 L62.49,338.84 L64.69,336.24 L66.89,338.84 L66.89,344.50 Z" fill="#5534c0"/>
<path d="M70.10,344.50 L70.10,338.84 L72.50,336.24 L74.90,338.84 L74.90,344.50 Z" fill="#5534c0"/>
<path d="M79.06,344.50 L79.06,342.84 L80.56,340.24 L82.06,342.84 L82.06,344.50 Z" fill="#b0a4e4"/>
</g>
</g>
<clipPath id="cp2"><rect x="35.0" y="348.5" width="50.20" height="17.90"/></clipPath>
<rect x="35.0" y="348.5" width="50.20" height="17.90" fill="#070707"/>
<g clip-path="url(#cp2)"><g filter="url(#bl)">
<rect x="35.0" y="360.67" width="50.20" height="4.93" fill="#4a30b0" opacity="0.85"/>
<path d="M39.59,350.50 C40.33,350.50 40.97,351.39 41.43,352.49 C41.89,353.48 42.35,354.07 42.35,355.46 L42.45,361.42 C42.45,363.21 41.99,364.40 39.59,364.40 C37.20,364.40 36.74,363.21 36.74,361.42 L36.83,355.46 C36.83,354.07 37.29,353.48 37.75,352.49 C38.21,351.39 38.86,350.50 39.59,350.50 Z" fill="#e4e2ea"/>
<path d="M47.40,350.50 C48.14,350.50 48.78,351.39 49.24,352.49 C49.70,353.48 50.16,354.07 50.16,355.46 L50.25,361.42 C50.25,363.21 49.79,364.40 47.40,364.40 C45.01,364.40 44.55,363.21 44.55,361.42 L44.64,355.46 C44.64,354.07 45.10,353.48 45.56,352.49 C46.02,351.39 46.66,350.50 47.40,350.50 Z" fill="#e4e2ea"/>
<path d="M55.46,350.50 C56.19,350.50 56.84,351.39 57.30,352.49 C57.76,353.48 58.22,354.07 58.22,355.46 L58.31,361.42 C58.31,363.21 57.85,364.40 55.46,364.40 C53.06,364.40 52.60,363.21 52.60,361.42 L52.70,355.46 C52.70,354.07 53.16,353.48 53.62,352.49 C54.08,351.39 54.72,350.50 55.46,350.50 Z" fill="#e4e2ea"/>
<path d="M64.69,350.50 C65.43,350.50 66.07,351.39 66.53,352.49 C66.99,353.48 67.45,354.07 67.45,355.46 L67.55,361.42 C67.55,363.21 67.09,364.40 64.69,364.40 C62.30,364.40 61.84,363.21 61.84,361.42 L61.93,355.46 C61.93,354.07 62.39,353.48 62.85,352.49 C63.31,351.39 63.96,350.50 64.69,350.50 Z" fill="#e4e2ea"/>
<path d="M72.50,350.50 C73.24,350.50 73.88,351.39 74.34,352.49 C74.80,353.48 75.26,354.07 75.26,355.46 L75.35,361.42 C75.35,363.21 74.89,364.40 72.50,364.40 C70.11,364.40 69.65,363.21 69.65,361.42 L69.74,355.46 C69.74,354.07 70.20,353.48 70.66,352.49 C71.12,351.39 71.76,350.50 72.50,350.50 Z" fill="#e4e2ea"/>
<path d="M80.56,350.50 C81.29,350.50 81.94,351.39 82.40,352.49 C82.86,353.48 83.32,354.07 83.32,355.46 L83.41,361.42 C83.41,363.21 82.95,364.40 80.56,364.40 C78.16,364.40 77.70,363.21 77.70,361.42 L77.80,355.46 C77.80,354.07 78.26,353.48 78.72,352.49 C79.18,351.39 79.82,350.50 80.56,350.50 Z" fill="#e4e2ea"/>
<path d="M37.19,365.20 L37.19,360.05 L39.59,357.45 L41.99,360.05 L41.99,365.20 Z" fill="#5534c0"/>
<path d="M45.00,365.20 L45.00,360.05 L47.40,357.45 L49.80,360.05 L49.80,365.20 Z" fill="#5534c0"/>
<path d="M53.06,365.20 L53.06,360.05 L55.46,357.45 L57.86,360.05 L57.86,365.20 Z" fill="#5534c0"/>
<path d="M62.09,365.20 L62.09,358.62 L64.69,356.02 L67.29,358.62 L67.29,365.20 Z" fill="#5534c0"/>
<path d="M69.90,365.20 L69.90,359.16 L72.50,356.56 L75.10,359.16 L75.10,365.20 Z" fill="#5534c0"/>
<path d="M77.96,365.20 L77.96,359.16 L80.56,356.56 L83.16,359.16 L83.16,365.20 Z" fill="#5534c0"/>
</g>
<line x1="60.10" y1="348.5" x2="60.10" y2="366.4" stroke="#c8c8c8" stroke-width="0.7"/>
</g>
<clipPath id="cp3"><rect x="35.0" y="370.0" width="50.20" height="18.00"/></clipPath>
<rect x="35.0" y="370.0" width="50.20" height="18.00" fill="#070707"/>
<g clip-path="url(#cp3)"><g filter="url(#bl)">
<path d="M39.59,372.00 C40.46,372.00 41.21,372.90 41.75,374.00 C42.29,375.00 42.83,375.60 42.83,377.00 L42.94,383.00 C42.94,384.80 42.40,386.00 39.59,386.00 C36.79,386.00 36.25,384.80 36.25,383.00 L36.35,377.00 C36.35,375.60 36.89,375.00 37.43,374.00 C37.97,372.90 38.73,372.00 39.59,372.00 Z" fill="#4e3eb2"/>
<path d="M47.40,372.00 C48.26,372.00 49.02,372.90 49.56,374.00 C50.10,375.00 50.64,375.60 50.64,377.00 L50.75,383.00 C50.75,384.80 50.21,386.00 47.40,386.00 C44.59,386.00 44.05,384.80 44.05,383.00 L44.16,377.00 C44.16,375.60 44.70,375.00 45.24,374.00 C45.78,372.90 46.54,372.00 47.40,372.00 Z" fill="#4e3eb2"/>
<path d="M55.46,372.00 C56.32,372.00 57.08,372.90 57.62,374.00 C58.16,375.00 58.70,375.60 58.70,377.00 L58.80,383.00 C58.80,384.80 58.26,386.00 55.46,386.00 C52.65,386.00 52.11,384.80 52.11,383.00 L52.22,377.00 C52.22,375.60 52.76,375.00 53.30,374.00 C53.84,372.90 54.59,372.00 55.46,372.00 Z" fill="#4e3eb2"/>
<path d="M64.69,372.00 C65.56,372.00 66.31,372.90 66.85,374.00 C67.39,375.00 67.93,375.60 67.93,377.00 L68.04,383.00 C68.04,384.80 67.50,386.00 64.69,386.00 C61.89,386.00 61.35,384.80 61.35,383.00 L61.45,377.00 C61.45,375.60 61.99,375.00 62.53,374.00 C63.07,372.90 63.83,372.00 64.69,372.00 Z" fill="#4e3eb2"/>
<path d="M72.50,372.00 C73.36,372.00 74.12,372.90 74.66,374.00 C75.20,375.00 75.74,375.60 75.74,377.00 L75.85,383.00 C75.85,384.80 75.31,386.00 72.50,386.00 C69.69,386.00 69.15,384.80 69.15,383.00 L69.26,377.00 C69.26,375.60 69.80,375.00 70.34,374.00 C70.88,372.90 71.64,372.00 72.50,372.00 Z" fill="#4e3eb2"/>
<path d="M80.56,372.00 C81.42,372.00 82.18,372.90 82.72,374.00 C83.26,375.00 83.80,375.60 83.80,377.00 L83.90,383.00 C83.90,384.80 83.36,386.00 80.56,386.00 C77.75,386.00 77.21,384.80 77.21,383.00 L77.32,377.00 C77.32,375.60 77.86,375.00 78.40,374.00 C78.94,372.90 79.69,372.00 80.56,372.00 Z" fill="#4e3eb2"/>
<ellipse cx="55.46" cy="379.90" rx="0.8" ry="1.2" fill="#d8d0f8"/>
</g>
<line x1="60.10" y1="370.0" x2="60.10" y2="388.0" stroke="#e8e8e8" stroke-width="0.7"/>
</g>
<clipPath id="cp4"><rect x="35.0" y="391.5" width="50.20" height="19.80"/></clipPath>
<rect x="35.0" y="391.5" width="50.20" height="19.80" fill="#1a1270"/>
<g clip-path="url(#cp4)"><g filter="url(#bl)">
<rect x="35.0" y="394.5" width="50.2" height="16.80000000000001" fill="#2e2498"/>
<path d="M39.59,393.00 C40.39,393.00 41.09,394.05 41.59,395.33 C42.09,396.49 42.59,397.19 42.59,398.82 L42.69,405.81 C42.69,407.90 42.19,409.30 39.59,409.30 C36.99,409.30 36.49,407.90 36.49,405.81 L36.59,398.82 C36.59,397.19 37.09,396.49 37.59,395.33 C38.09,394.05 38.79,393.00 39.59,393.00 Z" fill="#4a3cb4"/>
<path d="M47.40,393.00 C48.20,393.00 48.90,394.05 49.40,395.33 C49.90,396.49 50.40,397.19 50.40,398.82 L50.50,405.81 C50.50,407.90 50.00,409.30 47.40,409.30 C44.80,409.30 44.30,407.90 44.30,405.81 L44.40,398.82 C44.40,397.19 44.90,396.49 45.40,395.33 C45.90,394.05 46.60,393.00 47.40,393.00 Z" fill="#4a3cb4"/>
<path d="M55.46,393.00 C56.26,393.00 56.96,394.05 57.46,395.33 C57.96,396.49 58.46,397.19 58.46,398.82 L58.56,405.81 C58.56,407.90 58.06,409.30 55.46,409.30 C52.86,409.30 52.36,407.90 52.36,405.81 L52.46,398.82 C52.46,397.19 52.96,396.49 53.46,395.33 C53.96,394.05 54.66,393.00 55.46,393.00 Z" fill="#4a3cb4"/>
<path d="M64.69,393.00 C65.49,393.00 66.19,394.05 66.69,395.33 C67.19,396.49 67.69,397.19 67.69,398.82 L67.79,405.81 C67.79,407.90 67.29,409.30 64.69,409.30 C62.09,409.30 61.59,407.90 61.59,405.81 L61.69,398.82 C61.69,397.19 62.19,396.49 62.69,395.33 C63.19,394.05 63.89,393.00 64.69,393.00 Z" fill="#4a3cb4"/>
<path d="M72.50,393.00 C73.30,393.00 74.00,394.05 74.50,395.33 C75.00,396.49 75.50,397.19 75.50,398.82 L75.60,405.81 C75.60,407.90 75.10,409.30 72.50,409.30 C69.90,409.30 69.40,407.90 69.40,405.81 L69.50,398.82 C69.50,397.19 70.00,396.49 70.50,395.33 C71.00,394.05 71.70,393.00 72.50,393.00 Z" fill="#4a3cb4"/>
<path d="M80.56,393.00 C81.36,393.00 82.06,394.05 82.56,395.33 C83.06,396.49 83.56,397.19 83.56,398.82 L83.66,405.81 C83.66,407.90 83.16,409.30 80.56,409.30 C77.96,409.30 77.46,407.90 77.46,405.81 L77.56,398.82 C77.56,397.19 78.06,396.49 78.56,395.33 C79.06,394.05 79.76,393.00 80.56,393.00 Z" fill="#4a3cb4"/>
<ellipse cx="39.59" cy="405.76" rx="0.9" ry="1.2" fill="#a898f0"/>
<ellipse cx="64.69" cy="402.39" rx="0.8" ry="1" fill="#8878e8"/>
<ellipse cx="72.50" cy="403.78" rx="0.8" ry="0.9" fill="#8878e8"/>
</g>
<line x1="60.10" y1="391.5" x2="60.10" y2="411.3" stroke="#e8e8e8" stroke-width="0.7"/>
</g>
<clipPath id="cp5"><rect x="35.0" y="414.9" width="50.20" height="18.50"/></clipPath>
<rect x="35.0" y="414.9" width="50.20" height="18.50" fill="#4434a6"/>
<g clip-path="url(#cp5)"><g filter="url(#bl)">
<ellipse cx="39.59" cy="417.86" rx="1.8" ry="1.8" fill="url(#cool)"/>
<ellipse cx="47.40" cy="418.60" rx="1.8" ry="1.8" fill="url(#cool)"/>
<ellipse cx="55.46" cy="419.71" rx="1.6" ry="1.6" fill="url(#cool)"/>
<ellipse cx="64.69" cy="417.86" rx="1.8" ry="1.8" fill="url(#cool)"/>
<ellipse cx="72.50" cy="417.49" rx="1.8" ry="1.8" fill="url(#cool)"/>
<ellipse cx="80.56" cy="418.60" rx="1.6" ry="1.6" fill="url(#cool)"/>
<ellipse cx="39.59" cy="423.22" rx="2.4" ry="3.4" fill="url(#grn)"/>
<ellipse cx="47.40" cy="423.22" rx="2.4" ry="3.4" fill="url(#grn)"/>
<ellipse cx="55.46" cy="423.22" rx="2.4" ry="3.4" fill="url(#grn)"/>
<ellipse cx="64.69" cy="423.22" rx="2.4" ry="3.4" fill="url(#grn)"/>
<ellipse cx="72.50" cy="423.22" rx="2.4" ry="3.4" fill="url(#grn)"/>
<ellipse cx="80.56" cy="423.22" rx="2.4" ry="3.4" fill="url(#grn)"/>
<ellipse cx="39.59" cy="427.48" rx="3.6" ry="5.2" fill="url(#warm)"/>
<ellipse cx="47.40" cy="427.48" rx="3.4" ry="4.8" fill="url(#grn)"/>
<ellipse cx="55.46" cy="427.85" rx="3.4" ry="4.8" fill="url(#warm)"/>
<ellipse cx="64.69" cy="427.11" rx="3.4" ry="5.2" fill="url(#warm)"/>
<ellipse cx="72.50" cy="427.48" rx="3.4" ry="5.4" fill="url(#warm)"/>
<ellipse cx="80.56" cy="427.48" rx="3.2" ry="4.8" fill="url(#grn)"/>
</g>
<line x1="60.10" y1="414.9" x2="60.10" y2="433.4" stroke="#e8e8e8" stroke-width="0.7"/>
</g>
<clipPath id="cp6"><rect x="35.0" y="436.1" width="50.20" height="19.40"/></clipPath>
<rect x="35.0" y="436.1" width="50.20" height="19.40" fill="#4434a6"/>
<g clip-path="url(#cp6)"><g filter="url(#bl)">
<ellipse cx="39.59" cy="441.53" rx="2.2" ry="3.4" fill="url(#grn)"/>
<ellipse cx="47.40" cy="441.53" rx="2.2" ry="3.4" fill="url(#grn)"/>
<ellipse cx="55.46" cy="441.53" rx="2.2" ry="3.4" fill="url(#grn)"/>
<ellipse cx="64.69" cy="441.53" rx="2.2" ry="3.4" fill="url(#grn)"/>
<ellipse cx="72.50" cy="441.53" rx="2.2" ry="3.4" fill="url(#grn)"/>
<ellipse cx="80.56" cy="441.53" rx="2.2" ry="3.4" fill="url(#grn)"/>
<ellipse cx="39.59" cy="448.13" rx="3.6" ry="7.0" fill="url(#red)"/>
<ellipse cx="47.40" cy="448.52" rx="3.8" ry="7.0" fill="url(#red)"/>
<ellipse cx="55.46" cy="448.90" rx="3.2" ry="6.0" fill="url(#red)"/>
<ellipse cx="64.69" cy="447.35" rx="3.7" ry="7.0" fill="url(#red)"/>
<ellipse cx="72.50" cy="447.74" rx="3.7" ry="7.0" fill="url(#red)"/>
<ellipse cx="80.56" cy="448.13" rx="3.5" ry="7.0" fill="url(#red)"/>
</g>
<line x1="60.10" y1="436.1" x2="60.10" y2="455.5" stroke="#e8e8e8" stroke-width="0.7"/>
</g>
<clipPath id="cp7"><rect x="35.0" y="457.1" width="50.20" height="19.10"/></clipPath>
<rect x="35.0" y="457.1" width="50.20" height="19.10" fill="#4434a6"/>
<g clip-path="url(#cp7)"><g filter="url(#bl)">
<ellipse cx="47.40" cy="467.03" rx="3.8" ry="7.8" fill="url(#red2)"/>
<ellipse cx="64.69" cy="467.03" rx="3.6" ry="7.6" fill="url(#red2)"/>
<ellipse cx="72.50" cy="467.03" rx="3.6" ry="7.6" fill="url(#red2)"/>
<ellipse cx="80.56" cy="467.61" rx="3.6" ry="7.4" fill="url(#red2)"/>
</g>
<line x1="60.10" y1="457.1" x2="60.10" y2="476.2" stroke="#e8e8e8" stroke-width="0.7"/>
</g>
<clipPath id="cp8"><rect x="90.6" y="327.5" width="51.40" height="18.20"/></clipPath>
<rect x="90.6" y="327.5" width="51.40" height="18.20" fill="#070707"/>
<g clip-path="url(#cp8)"><g filter="url(#bl)">
<path d="M95.30,329.50 C96.04,329.50 96.68,330.41 97.14,331.53 C97.60,332.54 98.06,333.15 98.06,334.57 L98.16,340.66 C98.16,342.48 97.70,343.70 95.30,343.70 C92.91,343.70 92.45,342.48 92.45,340.66 L92.54,334.57 C92.54,333.15 93.00,332.54 93.46,331.53 C93.92,330.41 94.57,329.50 95.30,329.50 Z" fill="#e4e2ea"/>
<path d="M103.30,329.50 C104.03,329.50 104.68,330.41 105.14,331.53 C105.60,332.54 106.06,333.15 106.06,334.57 L106.15,340.66 C106.15,342.48 105.69,343.70 103.30,343.70 C100.90,343.70 100.44,342.48 100.44,340.66 L100.54,334.57 C100.54,333.15 101.00,332.54 101.46,331.53 C101.92,330.41 102.56,329.50 103.30,329.50 Z" fill="#e4e2ea"/>
<path d="M111.55,329.50 C112.28,329.50 112.93,330.41 113.39,331.53 C113.85,332.54 114.31,333.15 114.31,334.57 L114.40,340.66 C114.40,342.48 113.94,343.70 111.55,343.70 C109.15,343.70 108.69,342.48 108.69,340.66 L108.79,334.57 C108.79,333.15 109.25,332.54 109.71,331.53 C110.17,330.41 110.81,329.50 111.55,329.50 Z" fill="#e4e2ea"/>
<path d="M121.00,329.50 C121.74,329.50 122.38,330.41 122.84,331.53 C123.30,332.54 123.76,333.15 123.76,334.57 L123.86,340.66 C123.86,342.48 123.40,343.70 121.00,343.70 C118.61,343.70 118.15,342.48 118.15,340.66 L118.24,334.57 C118.24,333.15 118.70,332.54 119.16,331.53 C119.62,330.41 120.27,329.50 121.00,329.50 Z" fill="#e4e2ea"/>
<path d="M129.00,329.50 C129.73,329.50 130.38,330.41 130.84,331.53 C131.30,332.54 131.76,333.15 131.76,334.57 L131.85,340.66 C131.85,342.48 131.39,343.70 129.00,343.70 C126.60,343.70 126.14,342.48 126.14,340.66 L126.24,334.57 C126.24,333.15 126.70,332.54 127.16,331.53 C127.62,330.41 128.26,329.50 129.00,329.50 Z" fill="#e4e2ea"/>
<path d="M137.25,329.50 C137.98,329.50 138.63,330.41 139.09,331.53 C139.55,332.54 140.01,333.15 140.01,334.57 L140.10,340.66 C140.10,342.48 139.64,343.70 137.25,343.70 C134.85,343.70 134.39,342.48 134.39,340.66 L134.49,334.57 C134.49,333.15 134.95,332.54 135.41,331.53 C135.87,330.41 136.51,329.50 137.25,329.50 Z" fill="#e4e2ea"/>
<path d="M93.10,344.50 L93.10,338.29 L95.30,335.69 L97.50,338.29 L97.50,344.50 Z" fill="#5534c0"/>
<path d="M101.00,344.50 L101.00,337.74 L103.30,335.14 L105.60,337.74 L105.60,344.50 Z" fill="#5534c0"/>
<path d="M109.95,344.50 L109.95,342.84 L111.55,340.24 L113.15,342.84 L113.15,344.50 Z" fill="#a898e0"/>
<path d="M118.60,344.50 L118.60,337.74 L121.00,335.14 L123.40,337.74 L123.40,344.50 Z" fill="#5534c0"/>
<path d="M127.00,344.50 L127.00,339.20 L129.00,336.60 L131.00,339.20 L131.00,344.50 Z" fill="#5534c0"/>
<path d="M135.05,344.50 L135.05,338.29 L137.25,335.69 L139.45,338.29 L139.45,344.50 Z" fill="#5534c0"/>
</g>
</g>
<clipPath id="cp9"><rect x="90.6" y="348.5" width="51.40" height="17.90"/></clipPath>
<rect x="90.6" y="348.5" width="51.40" height="17.90" fill="#070707"/>
<g clip-path="url(#cp9)"><g filter="url(#bl)">
<rect x="90.6" y="361.03" width="51.40" height="4.57" fill="#4a30b0" opacity="0.85"/>
<path d="M95.30,350.50 C96.04,350.50 96.68,351.39 97.14,352.49 C97.60,353.48 98.06,354.07 98.06,355.46 L98.16,361.42 C98.16,363.21 97.70,364.40 95.30,364.40 C92.91,364.40 92.45,363.21 92.45,361.42 L92.54,355.46 C92.54,354.07 93.00,353.48 93.46,352.49 C93.92,351.39 94.57,350.50 95.30,350.50 Z" fill="#e4e2ea"/>
<path d="M103.30,350.50 C104.03,350.50 104.68,351.39 105.14,352.49 C105.60,353.48 106.06,354.07 106.06,355.46 L106.15,361.42 C106.15,363.21 105.69,364.40 103.30,364.40 C100.90,364.40 100.44,363.21 100.44,361.42 L100.54,355.46 C100.54,354.07 101.00,353.48 101.46,352.49 C101.92,351.39 102.56,350.50 103.30,350.50 Z" fill="#e4e2ea"/>
<path d="M111.55,350.50 C112.28,350.50 112.93,351.39 113.39,352.49 C113.85,353.48 114.31,354.07 114.31,355.46 L114.40,361.42 C114.40,363.21 113.94,364.40 111.55,364.40 C109.15,364.40 108.69,363.21 108.69,361.42 L108.79,355.46 C108.79,354.07 109.25,353.48 109.71,352.49 C110.17,351.39 110.81,350.50 111.55,350.50 Z" fill="#e4e2ea"/>
<path d="M121.00,350.50 C121.74,350.50 122.38,351.39 122.84,352.49 C123.30,353.48 123.76,354.07 123.76,355.46 L123.86,361.42 C123.86,363.21 123.40,364.40 121.00,364.40 C118.61,364.40 118.15,363.21 118.15,361.42 L118.24,355.46 C118.24,354.07 118.70,353.48 119.16,352.49 C119.62,351.39 120.27,350.50 121.00,350.50 Z" fill="#e4e2ea"/>
<path d="M129.00,350.50 C129.73,350.50 130.38,351.39 130.84,352.49 C131.30,353.48 131.76,354.07 131.76,355.46 L131.85,361.42 C131.85,363.21 131.39,364.40 129.00,364.40 C126.60,364.40 126.14,363.21 126.14,361.42 L126.24,355.46 C126.24,354.07 126.70,353.48 127.16,352.49 C127.62,351.39 128.26,350.50 129.00,350.50 Z" fill="#e4e2ea"/>
<path d="M137.25,350.50 C137.98,350.50 138.63,351.39 139.09,352.49 C139.55,353.48 140.01,354.07 140.01,355.46 L140.10,361.42 C140.10,363.21 139.64,364.40 137.25,364.40 C134.85,364.40 134.39,363.21 134.39,361.42 L134.49,355.46 C134.49,354.07 134.95,353.48 135.41,352.49 C135.87,351.39 136.51,350.50 137.25,350.50 Z" fill="#e4e2ea"/>
<path d="M92.80,365.20 L92.80,360.05 L95.30,357.45 L97.80,360.05 L97.80,365.20 Z" fill="#5534c0"/>
<path d="M100.80,365.20 L100.80,359.69 L103.30,357.09 L105.80,359.69 L105.80,365.20 Z" fill="#5534c0"/>
<path d="M109.35,365.20 L109.35,362.20 L111.55,359.60 L113.75,362.20 L113.75,365.20 Z" fill="#6a4ccc"/>
<path d="M118.50,365.20 L118.50,359.69 L121.00,357.09 L123.50,359.69 L123.50,365.20 Z" fill="#5534c0"/>
<path d="M126.60,365.20 L126.60,360.41 L129.00,357.81 L131.40,360.41 L131.40,365.20 Z" fill="#5534c0"/>
<path d="M135.05,365.20 L135.05,360.94 L137.25,358.34 L139.45,360.94 L139.45,365.20 Z" fill="#5534c0"/>
</g>
<line x1="116.30" y1="348.5" x2="116.30" y2="366.4" stroke="#c8c8c8" stroke-width="0.7"/>
</g>
<clipPath id="cp10"><rect x="90.6" y="370.0" width="51.40" height="18.00"/></clipPath>
<rect x="90.6" y="370.0" width="51.40" height="18.00" fill="#070707"/>
<g clip-path="url(#cp10)"><g filter="url(#bl)">
<path d="M95.30,372.00 C96.10,372.00 96.80,372.90 97.30,374.00 C97.80,375.00 98.30,375.60 98.30,377.00 L98.40,383.00 C98.40,384.80 97.90,386.00 95.30,386.00 C92.70,386.00 92.20,384.80 92.20,383.00 L92.30,377.00 C92.30,375.60 92.80,375.00 93.30,374.00 C93.80,372.90 94.50,372.00 95.30,372.00 Z" fill="#c0b4e8"/>
<path d="M103.30,372.00 C104.10,372.00 104.80,372.90 105.30,374.00 C105.80,375.00 106.30,375.60 106.30,377.00 L106.40,383.00 C106.40,384.80 105.90,386.00 103.30,386.00 C100.70,386.00 100.20,384.80 100.20,383.00 L100.30,377.00 C100.30,375.60 100.80,375.00 101.30,374.00 C101.80,372.90 102.50,372.00 103.30,372.00 Z" fill="#e2def0"/>
<path d="M111.55,372.00 C112.35,372.00 113.05,372.90 113.55,374.00 C114.05,375.00 114.55,375.60 114.55,377.00 L114.65,383.00 C114.65,384.80 114.15,386.00 111.55,386.00 C108.95,386.00 108.45,384.80 108.45,383.00 L108.55,377.00 C108.55,375.60 109.05,375.00 109.55,374.00 C110.05,372.90 110.75,372.00 111.55,372.00 Z" fill="#d0c8ee"/>
<path d="M121.00,372.00 C121.80,372.00 122.50,372.90 123.00,374.00 C123.50,375.00 124.00,375.60 124.00,377.00 L124.10,383.00 C124.10,384.80 123.60,386.00 121.00,386.00 C118.40,386.00 117.90,384.80 117.90,383.00 L118.00,377.00 C118.00,375.60 118.50,375.00 119.00,374.00 C119.50,372.90 120.20,372.00 121.00,372.00 Z" fill="#e4e0f2"/>
<path d="M129.00,372.00 C129.80,372.00 130.50,372.90 131.00,374.00 C131.50,375.00 132.00,375.60 132.00,377.00 L132.10,383.00 C132.10,384.80 131.60,386.00 129.00,386.00 C126.40,386.00 125.90,384.80 125.90,383.00 L126.00,377.00 C126.00,375.60 126.50,375.00 127.00,374.00 C127.50,372.90 128.20,372.00 129.00,372.00 Z" fill="#d4ccee"/>
<path d="M137.25,372.00 C138.05,372.00 138.75,372.90 139.25,374.00 C139.75,375.00 140.25,375.60 140.25,377.00 L140.35,383.00 C140.35,384.80 139.85,386.00 137.25,386.00 C134.65,386.00 134.15,384.80 134.15,383.00 L134.25,377.00 C134.25,375.60 134.75,375.00 135.25,374.00 C135.75,372.90 136.45,372.00 137.25,372.00 Z" fill="#e8e6f4"/>
<ellipse cx="95.30" cy="375.40" rx="1.6" ry="2.6" fill="#5a3cc8"/>
<ellipse cx="95.30" cy="384.04" rx="1.8" ry="1.6" fill="#5a3cc8"/>
<ellipse cx="111.55" cy="379.90" rx="1.2" ry="3.2" fill="#5030b8"/>
<ellipse cx="121.00" cy="384.76" rx="1.8" ry="1.4" fill="#6a4ccc"/>
<ellipse cx="129.00" cy="375.40" rx="1.5" ry="2.2" fill="#5a3cc8"/>
<ellipse cx="129.00" cy="384.40" rx="1.6" ry="1.5" fill="#5a3cc8"/>
<ellipse cx="103.30" cy="384.76" rx="1.6" ry="1.4" fill="#7a60d0"/>
<ellipse cx="137.25" cy="385.30" rx="1.4" ry="1.2" fill="#8a78d8"/>
</g>
<line x1="116.30" y1="370.0" x2="116.30" y2="388.0" stroke="#e8e8e8" stroke-width="0.7"/>
</g>
<clipPath id="cp11"><rect x="90.6" y="391.5" width="51.40" height="19.80"/></clipPath>
<rect x="90.6" y="391.5" width="51.40" height="19.80" fill="#0a0618"/>
<g clip-path="url(#cp11)"><g filter="url(#bl)">
<path d="M95.30,393.50 C96.06,393.50 96.73,394.52 97.20,395.76 C97.68,396.89 98.15,397.56 98.15,399.14 L98.25,405.91 C98.25,407.95 97.77,409.30 95.30,409.30 C92.83,409.30 92.36,407.95 92.36,405.91 L92.45,399.14 C92.45,397.56 92.93,396.89 93.40,395.76 C93.88,394.52 94.54,393.50 95.30,393.50 Z" fill="#7a62cc"/>
<path d="M103.30,393.50 C104.06,393.50 104.72,394.52 105.20,395.76 C105.67,396.89 106.15,397.56 106.15,399.14 L106.24,405.91 C106.24,407.95 105.77,409.30 103.30,409.30 C100.83,409.30 100.35,407.95 100.35,405.91 L100.45,399.14 C100.45,397.56 100.92,396.89 101.40,395.76 C101.87,394.52 102.54,393.50 103.30,393.50 Z" fill="#8068cc"/>
<path d="M111.55,393.50 C112.31,393.50 112.97,394.52 113.45,395.76 C113.92,396.89 114.40,397.56 114.40,399.14 L114.49,405.91 C114.49,407.95 114.02,409.30 111.55,409.30 C109.08,409.30 108.60,407.95 108.60,405.91 L108.70,399.14 C108.70,397.56 109.17,396.89 109.65,395.76 C110.12,394.52 110.79,393.50 111.55,393.50 Z" fill="#8a74d0"/>
<path d="M121.00,393.50 C121.76,393.50 122.43,394.52 122.90,395.76 C123.38,396.89 123.85,397.56 123.85,399.14 L123.95,405.91 C123.95,407.95 123.47,409.30 121.00,409.30 C118.53,409.30 118.06,407.95 118.06,405.91 L118.15,399.14 C118.15,397.56 118.63,396.89 119.10,395.76 C119.58,394.52 120.24,393.50 121.00,393.50 Z" fill="#6a50c8"/>
<path d="M129.00,393.50 C129.76,393.50 130.42,394.52 130.90,395.76 C131.37,396.89 131.85,397.56 131.85,399.14 L131.94,405.91 C131.94,407.95 131.47,409.30 129.00,409.30 C126.53,409.30 126.05,407.95 126.05,405.91 L126.15,399.14 C126.15,397.56 126.62,396.89 127.10,395.76 C127.57,394.52 128.24,393.50 129.00,393.50 Z" fill="#7058c8"/>
<path d="M137.25,393.50 C138.01,393.50 138.67,394.52 139.15,395.76 C139.62,396.89 140.10,397.56 140.10,399.14 L140.19,405.91 C140.19,407.95 139.72,409.30 137.25,409.30 C134.78,409.30 134.30,407.95 134.30,405.91 L134.40,399.14 C134.40,397.56 134.87,396.89 135.35,395.76 C135.82,394.52 136.49,393.50 137.25,393.50 Z" fill="#9888d8"/>
<ellipse cx="95.30" cy="404.37" rx="1.4" ry="2.5" fill="#d8d0f4"/>
<ellipse cx="103.30" cy="402.39" rx="1.2" ry="2.0" fill="#c8bcf0"/>
<ellipse cx="111.55" cy="403.38" rx="1.5" ry="2.5" fill="#d0c8f2"/>
<ellipse cx="121.00" cy="403.78" rx="1.3" ry="1.8" fill="#f0ecf8"/>
<ellipse cx="129.00" cy="401.40" rx="1.5" ry="2.0" fill="#e8e4f8"/>
<ellipse cx="137.25" cy="402.39" rx="1.4" ry="3" fill="#d8d0f4"/>
</g>
<line x1="116.30" y1="391.5" x2="116.30" y2="411.3" stroke="#e8e8e8" stroke-width="0.7"/>
</g>
<clipPath id="cp12"><rect x="90.6" y="414.9" width="51.40" height="18.50"/></clipPath>
<rect x="90.6" y="414.9" width="51.40" height="18.50" fill="#0a0612"/>
<g clip-path="url(#cp12)"><g filter="url(#bl)">
<rect x="90.6" y="414.9" width="25.70" height="18.5" fill="#5040b4"/>
<path d="M95.30,416.40 C96.10,416.40 96.80,417.36 97.30,418.54 C97.80,419.61 98.30,420.26 98.30,421.76 L98.40,428.19 C98.40,430.11 97.90,431.40 95.30,431.40 C92.70,431.40 92.20,430.11 92.20,428.19 L92.30,421.76 C92.30,420.26 92.80,419.61 93.30,418.54 C93.80,417.36 94.50,416.40 95.30,416.40 Z" fill="#6652c0"/>
<path d="M103.30,416.40 C104.10,416.40 104.80,417.36 105.30,418.54 C105.80,419.61 106.30,420.26 106.30,421.76 L106.40,428.19 C106.40,430.11 105.90,431.40 103.30,431.40 C100.70,431.40 100.20,430.11 100.20,428.19 L100.30,421.76 C100.30,420.26 100.80,419.61 101.30,418.54 C101.80,417.36 102.50,416.40 103.30,416.40 Z" fill="#6652c0"/>
<path d="M111.55,416.40 C112.35,416.40 113.05,417.36 113.55,418.54 C114.05,419.61 114.55,420.26 114.55,421.76 L114.65,428.19 C114.65,430.11 114.15,431.40 111.55,431.40 C108.95,431.40 108.45,430.11 108.45,428.19 L108.55,421.76 C108.55,420.26 109.05,419.61 109.55,418.54 C110.05,417.36 110.75,416.40 111.55,416.40 Z" fill="#6652c0"/>
<path d="M121.00,416.40 C121.72,416.40 122.35,417.36 122.80,418.54 C123.25,419.61 123.70,420.26 123.70,421.76 L123.79,428.19 C123.79,430.11 123.34,431.40 121.00,431.40 C118.66,431.40 118.21,430.11 118.21,428.19 L118.30,421.76 C118.30,420.26 118.75,419.61 119.20,418.54 C119.65,417.36 120.28,416.40 121.00,416.40 Z" fill="#5040bc"/>
<path d="M129.00,416.40 C129.72,416.40 130.35,417.36 130.80,418.54 C131.25,419.61 131.70,420.26 131.70,421.76 L131.79,428.19 C131.79,430.11 131.34,431.40 129.00,431.40 C126.66,431.40 126.21,430.11 126.21,428.19 L126.30,421.76 C126.30,420.26 126.75,419.61 127.20,418.54 C127.65,417.36 128.28,416.40 129.00,416.40 Z" fill="#5040bc"/>
<path d="M137.25,416.40 C137.97,416.40 138.60,417.36 139.05,418.54 C139.50,419.61 139.95,420.26 139.95,421.76 L140.04,428.19 C140.04,430.11 139.59,431.40 137.25,431.40 C134.91,431.40 134.46,430.11 134.46,428.19 L134.55,421.76 C134.55,420.26 135.00,419.61 135.45,418.54 C135.90,417.36 136.53,416.40 137.25,416.40 Z" fill="#5040bc"/>
<ellipse cx="129.00" cy="425.07" rx="0.8" ry="1" fill="#e0d8f8"/>
<ellipse cx="103.30" cy="422.30" rx="0.8" ry="1.8" fill="#9080e0"/>
<ellipse cx="111.55" cy="420.45" rx="0.7" ry="1.2" fill="#a090e4"/>
</g>
<line x1="116.30" y1="414.9" x2="116.30" y2="433.4" stroke="#e8e8e8" stroke-width="0.7"/>
</g>
<clipPath id="cp13"><rect x="90.6" y="436.1" width="51.40" height="19.40"/></clipPath>
<rect x="90.6" y="436.1" width="51.40" height="19.40" fill="#4434a6"/>
<g clip-path="url(#cp13)"><g filter="url(#bl)">
<ellipse cx="93.68" cy="440.37" rx="1.3" ry="1.2" fill="url(#cool)"/>
<ellipse cx="110.39" cy="441.34" rx="2.4" ry="2.0" fill="url(#warm)"/>
<ellipse cx="92.66" cy="447.93" rx="1.4" ry="1.4" fill="#8a50b0"/>
<ellipse cx="103.45" cy="445.80" rx="2.5" ry="3" fill="#5040b8"/>
<ellipse cx="131.51" cy="441.34" rx="1.2" ry="1.1" fill="url(#cool)"/>
<ellipse cx="127.30" cy="447.93" rx="1.2" ry="1.1" fill="url(#cool)"/>
<ellipse cx="137.01" cy="439.59" rx="1.0" ry="1.0" fill="url(#cool)"/>
<ellipse cx="118.87" cy="450.65" rx="1.0" ry="1.0" fill="#6a5ad0"/>
</g>
<line x1="116.30" y1="436.1" x2="116.30" y2="455.5" stroke="#e8e8e8" stroke-width="0.7"/>
</g>
<clipPath id="cp14"><rect x="90.6" y="457.1" width="51.40" height="19.10"/></clipPath>
<rect x="90.6" y="457.1" width="51.40" height="19.10" fill="#4434a6"/>
<g clip-path="url(#cp14)"><g filter="url(#bl)">
<ellipse cx="94.61" cy="459.97" rx="2.4" ry="2.2" fill="url(#warm)"/>
<ellipse cx="94.61" cy="464.17" rx="1.3" ry="2.0" fill="url(#cool)"/>
<ellipse cx="94.61" cy="468.94" rx="1.2" ry="1.2" fill="url(#cool)"/>
<ellipse cx="102.99" cy="460.73" rx="1.5" ry="1.4" fill="url(#cool)"/>
<ellipse cx="111.01" cy="461.40" rx="2.8" ry="2.4" fill="url(#warm)"/>
<ellipse cx="120.21" cy="460.73" rx="1.2" ry="1.2" fill="url(#cool)"/>
<ellipse cx="131.51" cy="460.73" rx="1.3" ry="1.2" fill="url(#cool)"/>
<ellipse cx="137.79" cy="459.97" rx="1.2" ry="1.2" fill="url(#cool)"/>
<ellipse cx="137.12" cy="467.61" rx="2.0" ry="3.8" fill="url(#grn)"/>
<ellipse cx="127.30" cy="467.03" rx="1.2" ry="1.2" fill="url(#cool)"/>
<ellipse cx="100.88" cy="471.04" rx="1.0" ry="1.0" fill="url(#cool)"/>
</g>
<line x1="116.30" y1="457.1" x2="116.30" y2="476.2" stroke="#e8e8e8" stroke-width="0.7"/>
</g>
<clipPath id="cp15"><rect x="146.2" y="327.5" width="49.80" height="18.20"/></clipPath>
<rect x="146.2" y="327.5" width="49.80" height="18.20" fill="#070707"/>
<g clip-path="url(#cp15)"><g filter="url(#bl)">
<path d="M150.76,329.50 C151.49,329.50 152.14,330.41 152.60,331.53 C153.06,332.54 153.52,333.15 153.52,334.57 L153.61,340.66 C153.61,342.48 153.15,343.70 150.76,343.70 C148.36,343.70 147.90,342.48 147.90,340.66 L148.00,334.57 C148.00,333.15 148.46,332.54 148.92,331.53 C149.38,330.41 150.02,329.50 150.76,329.50 Z" fill="#e4e2ea"/>
<path d="M158.50,329.50 C159.24,329.50 159.88,330.41 160.34,331.53 C160.80,332.54 161.26,333.15 161.26,334.57 L161.35,340.66 C161.35,342.48 160.89,343.70 158.50,343.70 C156.11,343.70 155.65,342.48 155.65,340.66 L155.74,334.57 C155.74,333.15 156.20,332.54 156.66,331.53 C157.12,330.41 157.76,329.50 158.50,329.50 Z" fill="#e4e2ea"/>
<path d="M166.49,329.50 C167.23,329.50 167.87,330.41 168.33,331.53 C168.79,332.54 169.25,333.15 169.25,334.57 L169.35,340.66 C169.35,342.48 168.89,343.70 166.49,343.70 C164.10,343.70 163.64,342.48 163.64,340.66 L163.73,334.57 C163.73,333.15 164.19,332.54 164.65,331.53 C165.11,330.41 165.76,329.50 166.49,329.50 Z" fill="#e4e2ea"/>
<path d="M175.66,329.50 C176.39,329.50 177.04,330.41 177.50,331.53 C177.96,332.54 178.42,333.15 178.42,334.57 L178.51,340.66 C178.51,342.48 178.05,343.70 175.66,343.70 C173.26,343.70 172.80,342.48 172.80,340.66 L172.90,334.57 C172.90,333.15 173.36,332.54 173.82,331.53 C174.28,330.41 174.92,329.50 175.66,329.50 Z" fill="#e4e2ea"/>
<path d="M183.40,329.50 C184.14,329.50 184.78,330.41 185.24,331.53 C185.70,332.54 186.16,333.15 186.16,334.57 L186.25,340.66 C186.25,342.48 185.79,343.70 183.40,343.70 C181.01,343.70 180.55,342.48 180.55,340.66 L180.64,334.57 C180.64,333.15 181.10,332.54 181.56,331.53 C182.02,330.41 182.66,329.50 183.40,329.50 Z" fill="#e4e2ea"/>
<path d="M191.39,329.50 C192.13,329.50 192.77,330.41 193.23,331.53 C193.69,332.54 194.15,333.15 194.15,334.57 L194.25,340.66 C194.25,342.48 193.79,343.70 191.39,343.70 C189.00,343.70 188.54,342.48 188.54,340.66 L188.63,334.57 C188.63,333.15 189.09,332.54 189.55,331.53 C190.01,330.41 190.66,329.50 191.39,329.50 Z" fill="#e4e2ea"/>
<path d="M149.16,344.50 L149.16,339.20 L150.76,336.60 L152.36,339.20 L152.36,344.50 Z" fill="#5534c0"/>
<path d="M156.40,344.50 L156.40,338.29 L158.50,335.69 L160.60,338.29 L160.60,344.50 Z" fill="#5534c0"/>
<path d="M164.99,344.50 L164.99,341.93 L166.49,339.33 L167.99,341.93 L167.99,344.50 Z" fill="#8a70d8"/>
<path d="M173.46,344.50 L173.46,337.74 L175.66,335.14 L177.86,337.74 L177.86,344.50 Z" fill="#5534c0"/>
<path d="M181.30,344.50 L181.30,338.29 L183.40,335.69 L185.50,338.29 L185.50,344.50 Z" fill="#5534c0"/>
<path d="M189.89,344.50 L189.89,341.38 L191.39,338.78 L192.89,341.38 L192.89,344.50 Z" fill="#a090e0"/>
</g>
</g>
<clipPath id="cp16"><rect x="146.2" y="348.5" width="49.80" height="17.90"/></clipPath>
<rect x="146.2" y="348.5" width="49.80" height="17.90" fill="#070707"/>
<g clip-path="url(#cp16)"><g filter="url(#bl)">
<path d="M150.76,350.50 C151.46,350.50 152.08,351.39 152.52,352.49 C152.96,353.48 153.40,354.07 153.40,355.46 L153.48,361.42 C153.48,363.21 153.04,364.40 150.76,364.40 C148.47,364.40 148.03,363.21 148.03,361.42 L148.12,355.46 C148.12,354.07 148.56,353.48 149.00,352.49 C149.44,351.39 150.05,350.50 150.76,350.50 Z" fill="url(#gw)"/>
<path d="M158.50,350.50 C159.20,350.50 159.82,351.39 160.26,352.49 C160.70,353.48 161.14,354.07 161.14,355.46 L161.23,361.42 C161.23,363.21 160.79,364.40 158.50,364.40 C156.21,364.40 155.77,363.21 155.77,361.42 L155.86,355.46 C155.86,354.07 156.30,353.48 156.74,352.49 C157.18,351.39 157.80,350.50 158.50,350.50 Z" fill="url(#gw)"/>
<path d="M166.49,350.50 C167.20,350.50 167.81,351.39 168.25,352.49 C168.69,353.48 169.13,354.07 169.13,355.46 L169.22,361.42 C169.22,363.21 168.78,364.40 166.49,364.40 C164.21,364.40 163.77,363.21 163.77,361.42 L163.85,355.46 C163.85,354.07 164.29,353.48 164.73,352.49 C165.17,351.39 165.79,350.50 166.49,350.50 Z" fill="url(#gw)"/>
<path d="M175.66,350.50 C176.36,350.50 176.98,351.39 177.42,352.49 C177.86,353.48 178.30,354.07 178.30,355.46 L178.38,361.42 C178.38,363.21 177.94,364.40 175.66,364.40 C173.37,364.40 172.93,363.21 172.93,361.42 L173.02,355.46 C173.02,354.07 173.46,353.48 173.90,352.49 C174.34,351.39 174.95,350.50 175.66,350.50 Z" fill="url(#gw)"/>
<path d="M183.40,350.50 C184.10,350.50 184.72,351.39 185.16,352.49 C185.60,353.48 186.04,354.07 186.04,355.46 L186.13,361.42 C186.13,363.21 185.69,364.40 183.40,364.40 C181.11,364.40 180.67,363.21 180.67,361.42 L180.76,355.46 C180.76,354.07 181.20,353.48 181.64,352.49 C182.08,351.39 182.70,350.50 183.40,350.50 Z" fill="url(#gw)"/>
<path d="M191.39,350.50 C192.10,350.50 192.71,351.39 193.15,352.49 C193.59,353.48 194.03,354.07 194.03,355.46 L194.12,361.42 C194.12,363.21 193.68,364.40 191.39,364.40 C189.11,364.40 188.67,363.21 188.67,361.42 L188.75,355.46 C188.75,354.07 189.19,353.48 189.63,352.49 C190.07,351.39 190.69,350.50 191.39,350.50 Z" fill="url(#gw)"/>
</g>
<line x1="171.10" y1="348.5" x2="171.10" y2="366.4" stroke="#9a9a9a" stroke-width="0.7"/>
</g>
<clipPath id="cp17"><rect x="146.2" y="370.0" width="49.80" height="18.00"/></clipPath>
<rect x="146.2" y="370.0" width="49.80" height="18.00" fill="#070707"/>
<g clip-path="url(#cp17)"><g filter="url(#bl)">
<path d="M150.76,372.00 C151.46,372.00 152.08,372.90 152.52,374.00 C152.96,375.00 153.40,375.60 153.40,377.00 L153.48,383.00 C153.48,384.80 153.04,386.00 150.76,386.00 C148.47,386.00 148.03,384.80 148.03,383.00 L148.12,377.00 C148.12,375.60 148.56,375.00 149.00,374.00 C149.44,372.90 150.05,372.00 150.76,372.00 Z" fill="url(#gw)"/>
<path d="M158.50,372.00 C159.20,372.00 159.82,372.90 160.26,374.00 C160.70,375.00 161.14,375.60 161.14,377.00 L161.23,383.00 C161.23,384.80 160.79,386.00 158.50,386.00 C156.21,386.00 155.77,384.80 155.77,383.00 L155.86,377.00 C155.86,375.60 156.30,375.00 156.74,374.00 C157.18,372.90 157.80,372.00 158.50,372.00 Z" fill="url(#gw)"/>
<path d="M166.49,372.00 C167.20,372.00 167.81,372.90 168.25,374.00 C168.69,375.00 169.13,375.60 169.13,377.00 L169.22,383.00 C169.22,384.80 168.78,386.00 166.49,386.00 C164.21,386.00 163.77,384.80 163.77,383.00 L163.85,377.00 C163.85,375.60 164.29,375.00 164.73,374.00 C165.17,372.90 165.79,372.00 166.49,372.00 Z" fill="url(#gw)"/>
<path d="M175.66,372.00 C176.36,372.00 176.98,372.90 177.42,374.00 C177.86,375.00 178.30,375.60 178.30,377.00 L178.38,383.00 C178.38,384.80 177.94,386.00 175.66,386.00 C173.37,386.00 172.93,384.80 172.93,383.00 L173.02,377.00 C173.02,375.60 173.46,375.00 173.90,374.00 C174.34,372.90 174.95,372.00 175.66,372.00 Z" fill="url(#gw)"/>
<path d="M183.40,372.00 C184.10,372.00 184.72,372.90 185.16,374.00 C185.60,375.00 186.04,375.60 186.04,377.00 L186.13,383.00 C186.13,384.80 185.69,386.00 183.40,386.00 C181.11,386.00 180.67,384.80 180.67,383.00 L180.76,377.00 C180.76,375.60 181.20,375.00 181.64,374.00 C182.08,372.90 182.70,372.00 183.40,372.00 Z" fill="url(#gw)"/>
<path d="M191.39,372.00 C192.10,372.00 192.71,372.90 193.15,374.00 C193.59,375.00 194.03,375.60 194.03,377.00 L194.12,383.00 C194.12,384.80 193.68,386.00 191.39,386.00 C189.11,386.00 188.67,384.80 188.67,383.00 L188.75,377.00 C188.75,375.60 189.19,375.00 189.63,374.00 C190.07,372.90 190.69,372.00 191.39,372.00 Z" fill="url(#gw)"/>
</g>
<line x1="171.10" y1="370.0" x2="171.10" y2="388.0" stroke="#9a9a9a" stroke-width="0.7"/>
</g>
<clipPath id="cp18"><rect x="146.2" y="391.5" width="49.80" height="19.80"/></clipPath>
<rect x="146.2" y="391.5" width="49.80" height="19.80" fill="#070707"/>
<g clip-path="url(#cp18)"><g filter="url(#bl)">
<path d="M150.76,393.50 C151.46,393.50 152.08,394.52 152.52,395.76 C152.96,396.89 153.40,397.56 153.40,399.14 L153.48,405.91 C153.48,407.95 153.04,409.30 150.76,409.30 C148.47,409.30 148.03,407.95 148.03,405.91 L148.12,399.14 C148.12,397.56 148.56,396.89 149.00,395.76 C149.44,394.52 150.05,393.50 150.76,393.50 Z" fill="url(#gw)"/>
<path d="M158.50,393.50 C159.20,393.50 159.82,394.52 160.26,395.76 C160.70,396.89 161.14,397.56 161.14,399.14 L161.23,405.91 C161.23,407.95 160.79,409.30 158.50,409.30 C156.21,409.30 155.77,407.95 155.77,405.91 L155.86,399.14 C155.86,397.56 156.30,396.89 156.74,395.76 C157.18,394.52 157.80,393.50 158.50,393.50 Z" fill="url(#gw)"/>
<path d="M166.49,393.50 C167.20,393.50 167.81,394.52 168.25,395.76 C168.69,396.89 169.13,397.56 169.13,399.14 L169.22,405.91 C169.22,407.95 168.78,409.30 166.49,409.30 C164.21,409.30 163.77,407.95 163.77,405.91 L163.85,399.14 C163.85,397.56 164.29,396.89 164.73,395.76 C165.17,394.52 165.79,393.50 166.49,393.50 Z" fill="url(#gw)"/>
<path d="M175.66,393.50 C176.36,393.50 176.98,394.52 177.42,395.76 C177.86,396.89 178.30,397.56 178.30,399.14 L178.38,405.91 C178.38,407.95 177.94,409.30 175.66,409.30 C173.37,409.30 172.93,407.95 172.93,405.91 L173.02,399.14 C173.02,397.56 173.46,396.89 173.90,395.76 C174.34,394.52 174.95,393.50 175.66,393.50 Z" fill="url(#gw)"/>
<path d="M183.40,393.50 C184.10,393.50 184.72,394.52 185.16,395.76 C185.60,396.89 186.04,397.56 186.04,399.14 L186.13,405.91 C186.13,407.95 185.69,409.30 183.40,409.30 C181.11,409.30 180.67,407.95 180.67,405.91 L180.76,399.14 C180.76,397.56 181.20,396.89 181.64,395.76 C182.08,394.52 182.70,393.50 183.40,393.50 Z" fill="url(#gw)"/>
<path d="M191.39,393.50 C192.10,393.50 192.71,394.52 193.15,395.76 C193.59,396.89 194.03,397.56 194.03,399.14 L194.12,405.91 C194.12,407.95 193.68,409.30 191.39,409.30 C189.11,409.30 188.67,407.95 188.67,405.91 L188.75,399.14 C188.75,397.56 189.19,396.89 189.63,395.76 C190.07,394.52 190.69,393.50 191.39,393.50 Z" fill="url(#gw)"/>
</g>
<line x1="171.10" y1="391.5" x2="171.10" y2="411.3" stroke="#9a9a9a" stroke-width="0.7"/>
</g>
<clipPath id="cp19"><rect x="146.2" y="414.9" width="49.80" height="18.50"/></clipPath>
<rect x="146.2" y="414.9" width="49.80" height="18.50" fill="#070707"/>
<g clip-path="url(#cp19)"><g filter="url(#bl)">
<path d="M150.76,416.90 C151.46,416.90 152.08,417.83 152.52,418.97 C152.96,420.01 153.40,420.63 153.40,422.08 L153.48,428.29 C153.48,430.16 153.04,431.40 150.76,431.40 C148.47,431.40 148.03,430.16 148.03,428.29 L148.12,422.08 C148.12,420.63 148.56,420.01 149.00,418.97 C149.44,417.83 150.05,416.90 150.76,416.90 Z" fill="url(#gw)"/>
<path d="M158.50,416.90 C159.20,416.90 159.82,417.83 160.26,418.97 C160.70,420.01 161.14,420.63 161.14,422.08 L161.23,428.29 C161.23,430.16 160.79,431.40 158.50,431.40 C156.21,431.40 155.77,430.16 155.77,428.29 L155.86,422.08 C155.86,420.63 156.30,420.01 156.74,418.97 C157.18,417.83 157.80,416.90 158.50,416.90 Z" fill="url(#gw)"/>
<path d="M166.49,416.90 C167.20,416.90 167.81,417.83 168.25,418.97 C168.69,420.01 169.13,420.63 169.13,422.08 L169.22,428.29 C169.22,430.16 168.78,431.40 166.49,431.40 C164.21,431.40 163.77,430.16 163.77,428.29 L163.85,422.08 C163.85,420.63 164.29,420.01 164.73,418.97 C165.17,417.83 165.79,416.90 166.49,416.90 Z" fill="url(#gw)"/>
<path d="M175.66,416.90 C176.36,416.90 176.98,417.83 177.42,418.97 C177.86,420.01 178.30,420.63 178.30,422.08 L178.38,428.29 C178.38,430.16 177.94,431.40 175.66,431.40 C173.37,431.40 172.93,430.16 172.93,428.29 L173.02,422.08 C173.02,420.63 173.46,420.01 173.90,418.97 C174.34,417.83 174.95,416.90 175.66,416.90 Z" fill="url(#gw)"/>
<path d="M183.40,416.90 C184.10,416.90 184.72,417.83 185.16,418.97 C185.60,420.01 186.04,420.63 186.04,422.08 L186.13,428.29 C186.13,430.16 185.69,431.40 183.40,431.40 C181.11,431.40 180.67,430.16 180.67,428.29 L180.76,422.08 C180.76,420.63 181.20,420.01 181.64,418.97 C182.08,417.83 182.70,416.90 183.40,416.90 Z" fill="url(#gw)"/>
<path d="M191.39,416.90 C192.10,416.90 192.71,417.83 193.15,418.97 C193.59,420.01 194.03,420.63 194.03,422.08 L194.12,428.29 C194.12,430.16 193.68,431.40 191.39,431.40 C189.11,431.40 188.67,430.16 188.67,428.29 L188.75,422.08 C188.75,420.63 189.19,420.01 189.63,418.97 C190.07,417.83 190.69,416.90 191.39,416.90 Z" fill="url(#gw)"/>
</g>
<line x1="171.10" y1="414.9" x2="171.10" y2="433.4" stroke="#9a9a9a" stroke-width="0.7"/>
</g>
<clipPath id="cp20"><rect x="146.2" y="436.1" width="49.80" height="19.40"/></clipPath>
<rect x="146.2" y="436.1" width="49.80" height="19.40" fill="#070707"/>
<g clip-path="url(#cp20)"><g filter="url(#bl)">
<path d="M150.76,438.10 C151.46,438.10 152.08,439.09 152.52,440.30 C152.96,441.40 153.40,442.06 153.40,443.60 L153.48,450.20 C153.48,452.18 153.04,453.50 150.76,453.50 C148.47,453.50 148.03,452.18 148.03,450.20 L148.12,443.60 C148.12,442.06 148.56,441.40 149.00,440.30 C149.44,439.09 150.05,438.10 150.76,438.10 Z" fill="url(#gw)"/>
<path d="M158.50,438.10 C159.20,438.10 159.82,439.09 160.26,440.30 C160.70,441.40 161.14,442.06 161.14,443.60 L161.23,450.20 C161.23,452.18 160.79,453.50 158.50,453.50 C156.21,453.50 155.77,452.18 155.77,450.20 L155.86,443.60 C155.86,442.06 156.30,441.40 156.74,440.30 C157.18,439.09 157.80,438.10 158.50,438.10 Z" fill="url(#gw)"/>
<path d="M166.49,438.10 C167.20,438.10 167.81,439.09 168.25,440.30 C168.69,441.40 169.13,442.06 169.13,443.60 L169.22,450.20 C169.22,452.18 168.78,453.50 166.49,453.50 C164.21,453.50 163.77,452.18 163.77,450.20 L163.85,443.60 C163.85,442.06 164.29,441.40 164.73,440.30 C165.17,439.09 165.79,438.10 166.49,438.10 Z" fill="url(#gw)"/>
<path d="M175.66,438.10 C176.36,438.10 176.98,439.09 177.42,440.30 C177.86,441.40 178.30,442.06 178.30,443.60 L178.38,450.20 C178.38,452.18 177.94,453.50 175.66,453.50 C173.37,453.50 172.93,452.18 172.93,450.20 L173.02,443.60 C173.02,442.06 173.46,441.40 173.90,440.30 C174.34,439.09 174.95,438.10 175.66,438.10 Z" fill="url(#gw)"/>
<path d="M183.40,438.10 C184.10,438.10 184.72,439.09 185.16,440.30 C185.60,441.40 186.04,442.06 186.04,443.60 L186.13,450.20 C186.13,452.18 185.69,453.50 183.40,453.50 C181.11,453.50 180.67,452.18 180.67,450.20 L180.76,443.60 C180.76,442.06 181.20,441.40 181.64,440.30 C182.08,439.09 182.70,438.10 183.40,438.10 Z" fill="url(#gw)"/>
<path d="M191.39,438.10 C192.10,438.10 192.71,439.09 193.15,440.30 C193.59,441.40 194.03,442.06 194.03,443.60 L194.12,450.20 C194.12,452.18 193.68,453.50 191.39,453.50 C189.11,453.50 188.67,452.18 188.67,450.20 L188.75,443.60 C188.75,442.06 189.19,441.40 189.63,440.30 C190.07,439.09 190.69,438.10 191.39,438.10 Z" fill="url(#gw)"/>
</g>
<line x1="171.10" y1="436.1" x2="171.10" y2="455.5" stroke="#9a9a9a" stroke-width="0.7"/>
</g>
<clipPath id="cp21"><rect x="146.2" y="457.1" width="49.80" height="19.10"/></clipPath>
<rect x="146.2" y="457.1" width="49.80" height="19.10" fill="#070707"/>
<g clip-path="url(#cp21)"><g filter="url(#bl)">
<path d="M150.76,459.10 C151.46,459.10 152.08,460.07 152.52,461.26 C152.96,462.34 153.40,462.98 153.40,464.49 L153.48,470.96 C153.48,472.91 153.04,474.20 150.76,474.20 C148.47,474.20 148.03,472.91 148.03,470.96 L148.12,464.49 C148.12,462.98 148.56,462.34 149.00,461.26 C149.44,460.07 150.05,459.10 150.76,459.10 Z" fill="url(#gw)"/>
<path d="M158.50,459.10 C159.20,459.10 159.82,460.07 160.26,461.26 C160.70,462.34 161.14,462.98 161.14,464.49 L161.23,470.96 C161.23,472.91 160.79,474.20 158.50,474.20 C156.21,474.20 155.77,472.91 155.77,470.96 L155.86,464.49 C155.86,462.98 156.30,462.34 156.74,461.26 C157.18,460.07 157.80,459.10 158.50,459.10 Z" fill="url(#gw)"/>
<path d="M166.49,459.10 C167.20,459.10 167.81,460.07 168.25,461.26 C168.69,462.34 169.13,462.98 169.13,464.49 L169.22,470.96 C169.22,472.91 168.78,474.20 166.49,474.20 C164.21,474.20 163.77,472.91 163.77,470.96 L163.85,464.49 C163.85,462.98 164.29,462.34 164.73,461.26 C165.17,460.07 165.79,459.10 166.49,459.10 Z" fill="url(#gw)"/>
<path d="M175.66,459.10 C176.36,459.10 176.98,460.07 177.42,461.26 C177.86,462.34 178.30,462.98 178.30,464.49 L178.38,470.96 C178.38,472.91 177.94,474.20 175.66,474.20 C173.37,474.20 172.93,472.91 172.93,470.96 L173.02,464.49 C173.02,462.98 173.46,462.34 173.90,461.26 C174.34,460.07 174.95,459.10 175.66,459.10 Z" fill="url(#gw)"/>
<path d="M183.40,459.10 C184.10,459.10 184.72,460.07 185.16,461.26 C185.60,462.34 186.04,462.98 186.04,464.49 L186.13,470.96 C186.13,472.91 185.69,474.20 183.40,474.20 C181.11,474.20 180.67,472.91 180.67,470.96 L180.76,464.49 C180.76,462.98 181.20,462.34 181.64,461.26 C182.08,460.07 182.70,459.10 183.40,459.10 Z" fill="url(#gw)"/>
<path d="M191.39,459.10 C192.10,459.10 192.71,460.07 193.15,461.26 C193.59,462.34 194.03,462.98 194.03,464.49 L194.12,470.96 C194.12,472.91 193.68,474.20 191.39,474.20 C189.11,474.20 188.67,472.91 188.67,470.96 L188.75,464.49 C188.75,462.98 189.19,462.34 189.63,461.26 C190.07,460.07 190.69,459.10 191.39,459.10 Z" fill="url(#gw)"/>
</g>
<line x1="171.10" y1="457.1" x2="171.10" y2="476.2" stroke="#9a9a9a" stroke-width="0.7"/>
</g>
<rect x="0.5" y="0.5" width="519" height="482" fill="none" stroke="#5e5e5e" stroke-width="1.1"/>
</svg>
</body></html>
